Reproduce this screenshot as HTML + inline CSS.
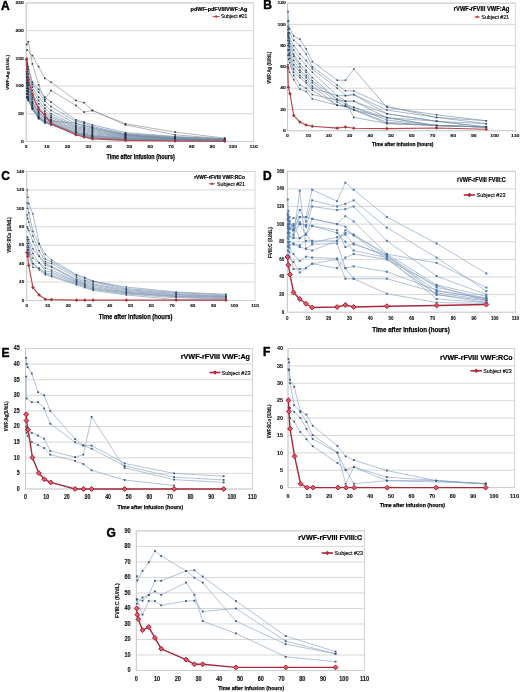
<!DOCTYPE html>
<html><head><meta charset="utf-8"><style>
html,body{margin:0;padding:0;background:#fff;}
svg{display:block;font-family:"Liberation Sans", sans-serif;will-change:transform;}
</style></head><body>
<svg width="520" height="692" viewBox="0 0 520 692">
<line x1="26.2" y1="141.5" x2="253.7" y2="141.5" stroke="#cdcdcd" stroke-width="0.8"/>
<line x1="26.2" y1="113.78" x2="253.7" y2="113.78" stroke="#cdcdcd" stroke-width="0.8"/>
<line x1="26.2" y1="86.06" x2="253.7" y2="86.06" stroke="#cdcdcd" stroke-width="0.8"/>
<line x1="26.2" y1="58.34" x2="253.7" y2="58.34" stroke="#cdcdcd" stroke-width="0.8"/>
<line x1="26.2" y1="30.62" x2="253.7" y2="30.62" stroke="#cdcdcd" stroke-width="0.8"/>
<line x1="26.2" y1="2.9" x2="253.7" y2="2.9" stroke="#cdcdcd" stroke-width="0.8"/>
<rect x="26.2" y="2.9" width="227.5" height="138.6" fill="none" stroke="#cdcdcd" stroke-width="0.8"/>
<line x1="26.2" y1="2.9" x2="26.2" y2="141.5" stroke="#c6c6c6" stroke-width="0.8"/>
<text x="20.95" y="142.68" font-size="4.4" font-weight="bold" fill="#111" stroke="#111" stroke-width="0.12" textLength="2.75" lengthAdjust="spacingAndGlyphs">0</text>
<text x="18.2" y="114.96" font-size="4.4" font-weight="bold" fill="#111" stroke="#111" stroke-width="0.12" textLength="5.5" lengthAdjust="spacingAndGlyphs">50</text>
<text x="15.45" y="87.24" font-size="4.4" font-weight="bold" fill="#111" stroke="#111" stroke-width="0.12" textLength="8.25" lengthAdjust="spacingAndGlyphs">100</text>
<text x="15.45" y="59.52" font-size="4.4" font-weight="bold" fill="#111" stroke="#111" stroke-width="0.12" textLength="8.25" lengthAdjust="spacingAndGlyphs">150</text>
<text x="15.45" y="31.8" font-size="4.4" font-weight="bold" fill="#111" stroke="#111" stroke-width="0.12" textLength="8.25" lengthAdjust="spacingAndGlyphs">200</text>
<text x="15.45" y="4.08" font-size="4.4" font-weight="bold" fill="#111" stroke="#111" stroke-width="0.12" textLength="8.25" lengthAdjust="spacingAndGlyphs">250</text>
<text x="24.82" y="148.48" font-size="4.4" font-weight="bold" fill="#111" stroke="#111" stroke-width="0.12" textLength="2.75" lengthAdjust="spacingAndGlyphs">0</text>
<text x="44.13" y="148.48" font-size="4.4" font-weight="bold" fill="#111" stroke="#111" stroke-width="0.12" textLength="5.5" lengthAdjust="spacingAndGlyphs">10</text>
<text x="64.81" y="148.48" font-size="4.4" font-weight="bold" fill="#111" stroke="#111" stroke-width="0.12" textLength="5.5" lengthAdjust="spacingAndGlyphs">20</text>
<text x="85.5" y="148.48" font-size="4.4" font-weight="bold" fill="#111" stroke="#111" stroke-width="0.12" textLength="5.5" lengthAdjust="spacingAndGlyphs">30</text>
<text x="106.18" y="148.48" font-size="4.4" font-weight="bold" fill="#111" stroke="#111" stroke-width="0.12" textLength="5.5" lengthAdjust="spacingAndGlyphs">40</text>
<text x="126.86" y="148.48" font-size="4.4" font-weight="bold" fill="#111" stroke="#111" stroke-width="0.12" textLength="5.5" lengthAdjust="spacingAndGlyphs">50</text>
<text x="147.54" y="148.48" font-size="4.4" font-weight="bold" fill="#111" stroke="#111" stroke-width="0.12" textLength="5.5" lengthAdjust="spacingAndGlyphs">60</text>
<text x="168.22" y="148.48" font-size="4.4" font-weight="bold" fill="#111" stroke="#111" stroke-width="0.12" textLength="5.5" lengthAdjust="spacingAndGlyphs">70</text>
<text x="188.9" y="148.48" font-size="4.4" font-weight="bold" fill="#111" stroke="#111" stroke-width="0.12" textLength="5.5" lengthAdjust="spacingAndGlyphs">80</text>
<text x="209.59" y="148.48" font-size="4.4" font-weight="bold" fill="#111" stroke="#111" stroke-width="0.12" textLength="5.5" lengthAdjust="spacingAndGlyphs">90</text>
<text x="228.89" y="148.48" font-size="4.4" font-weight="bold" fill="#111" stroke="#111" stroke-width="0.12" textLength="8.25" lengthAdjust="spacingAndGlyphs">100</text>
<text x="249.58" y="148.48" font-size="4.4" font-weight="bold" fill="#111" stroke="#111" stroke-width="0.12" textLength="8.25" lengthAdjust="spacingAndGlyphs">110</text>
<text x="106.5" y="158.59" font-size="6.43" font-weight="bold" fill="#000" stroke="#000" stroke-width="0.25" textLength="68.2" lengthAdjust="spacingAndGlyphs">Time after infusion (hours)</text>
<text transform="translate(9.14,90) rotate(-90)" font-size="4.4" font-weight="bold" fill="#111" stroke="#111" stroke-width="0.15" textLength="35" lengthAdjust="spacingAndGlyphs">VWF:Ag (IU/dL)</text>
<text x="190.6" y="10.72" font-size="5.9" font-weight="bold" fill="#000" stroke="#000" stroke-width="0.22" textLength="56.7" lengthAdjust="spacingAndGlyphs">pdWF-pdFVIIIVWF:Ag</text>
<line x1="212.6" y1="16.6" x2="219.8" y2="16.6" stroke="#b8454b" stroke-width="1.0"/>
<path d="M214.6 16.6L216.2 15L217.8 16.6L216.2 18.2Z" fill="#b8454b"/>
<text x="220.9" y="18.4" font-size="5.0" fill="#111" stroke="#111" stroke-width="0.18" textLength="26.4" lengthAdjust="spacingAndGlyphs">Subject #21</text>
<text x="1.1" y="9.6" font-size="12" font-weight="bold" fill="#000" stroke="#000" stroke-width="0.45">A</text>
<polyline points="27.23,50.02 32.4,55.57 38.61,66.66 44.81,78.3 51.02,82.18 75.84,100.47 84.11,102.69 92.38,110.45 125.47,123.76 175.11,132.08 224.75,138.17" fill="none" stroke="#8e8e8e" stroke-width="0.65"/>
<polyline points="26.72,44.48 28.27,41.71 32.4,63.88 38.61,84.95 44.81,99.37 51.02,90.5 75.84,105.46 84.11,112.12 92.38,110.45 125.47,124.87 175.11,134.85 224.75,138.73" fill="none" stroke="#8e8e8e" stroke-width="0.65"/>
<polyline points="26.72,58.34 27.23,62.78 28.27,66.66 32.4,82.18 38.61,89.39 44.81,97.15 51.02,102.14 75.84,119.88 84.11,122.1 92.38,124.87 125.47,132.63 175.11,136.51 224.75,138.73" fill="none" stroke="#6f88a3" stroke-width="0.65"/>
<polyline points="26.72,60.56 27.23,64.99 28.27,69.43 32.4,84.4 38.61,92.16 44.81,101.03 51.02,106.57 75.84,121.54 84.11,123.2 92.38,126.53 125.47,133.74 175.11,137.06 224.75,139.28" fill="none" stroke="#6f88a3" stroke-width="0.65"/>
<polyline points="26.72,63.88 27.23,68.32 28.27,73.86 32.4,87.17 38.61,97.15 44.81,104.91 51.02,110.45 75.84,123.76 84.11,125.42 92.38,127.64 125.47,134.29 175.11,137.62 224.75,139.56" fill="none" stroke="#6f88a3" stroke-width="0.65"/>
<polyline points="26.72,66.1 27.23,71.65 28.27,77.19 32.4,90.5 38.61,100.47 44.81,108.24 51.02,113.78 75.84,125.42 84.11,127.09 92.38,129.3 125.47,134.85 175.11,138.17 224.75,139.84" fill="none" stroke="#6f88a3" stroke-width="0.65"/>
<polyline points="26.72,68.87 27.23,73.86 28.27,79.96 32.4,93.82 38.61,103.8 44.81,111.01 51.02,116 75.84,126.53 84.11,128.19 92.38,130.41 125.47,135.4 175.11,138.45 224.75,140.11" fill="none" stroke="#6f88a3" stroke-width="0.65"/>
<polyline points="26.72,71.65 27.23,76.08 28.27,82.73 32.4,97.15 38.61,107.13 44.81,113.23 51.02,117.66 75.84,127.64 84.11,129.3 92.38,131.52 125.47,135.96 175.11,138.73 224.75,140.28" fill="none" stroke="#6f88a3" stroke-width="0.65"/>
<polyline points="26.72,74.42 27.23,78.85 28.27,85.51 32.4,99.37 38.61,109.34 44.81,115.44 51.02,119.32 75.84,128.75 84.11,130.41 92.38,132.63 125.47,136.51 175.11,139.01 224.75,140.39" fill="none" stroke="#6f88a3" stroke-width="0.65"/>
<polyline points="26.72,77.19 27.23,81.07 28.27,88.28 32.4,101.58 38.61,111.56 44.81,117.11 51.02,120.43 75.84,129.86 84.11,131.52 92.38,133.74 125.47,137.06 175.11,139.28 224.75,140.5" fill="none" stroke="#6f88a3" stroke-width="0.65"/>
<polyline points="26.72,79.96 27.23,83.29 28.27,89.94 32.4,103.8 38.61,113.78 44.81,118.77 51.02,121.54 75.84,130.97 84.11,132.63 92.38,134.85 125.47,137.62 175.11,139.56 224.75,140.67" fill="none" stroke="#6f88a3" stroke-width="0.65"/>
<polyline points="26.72,82.73 27.23,85.51 28.27,92.16 32.4,105.46 38.61,115.44 44.81,119.88 51.02,122.65 75.84,132.08 84.11,133.74 92.38,135.68 125.47,138.17 175.11,139.84 224.75,140.83" fill="none" stroke="#6f88a3" stroke-width="0.65"/>
<polyline points="26.72,85.51 27.23,88.28 28.27,94.38 32.4,107.13 38.61,116.55 44.81,120.99 51.02,123.2 75.84,132.63 84.11,134.29 92.38,136.23 125.47,138.73 175.11,140.11 224.75,140.95" fill="none" stroke="#6f88a3" stroke-width="0.65"/>
<polyline points="26.72,88.28 27.23,91.05 28.27,96.59 32.4,108.24 38.61,117.66 44.81,122.1 51.02,123.76 75.84,133.18 84.11,134.85 92.38,136.79 125.47,139.01 175.11,140.39 224.75,141.06" fill="none" stroke="#6f88a3" stroke-width="0.65"/>
<polyline points="26.72,91.05 27.23,93.82 28.27,98.26 32.4,109.34 38.61,118.22 44.81,122.65 51.02,124.31 75.84,133.74 84.11,135.4 92.38,137.34 125.47,139.28 175.11,140.39 224.75,141.11" fill="none" stroke="#6f88a3" stroke-width="0.65"/>
<polyline points="26.72,93.82 27.23,96.59 28.27,99.92 32.4,108.79 38.61,118.77 44.81,122.65 51.02,124.87 75.84,134.29 84.11,135.96 92.38,137.9 125.47,139.56 175.11,140.67 224.75,141.17" fill="none" stroke="#6f88a3" stroke-width="0.65"/>
<polyline points="26.72,97.15 27.23,98.26 28.27,100.47 32.4,107.68 38.61,117.11 44.81,121.54 51.02,124.31 75.84,134.57 84.11,136.51 92.38,138.17 125.47,139.84 175.11,140.83 224.75,141.22" fill="none" stroke="#6f88a3" stroke-width="0.65"/>
<polyline points="26.72,72.2 27.23,77.19 28.27,84.95 32.4,102.69 38.61,112.67 44.81,118.22 51.02,120.99 75.84,123.2 84.11,125.42 92.38,128.19 125.47,134.85 175.11,138.17 224.75,139.84" fill="none" stroke="#6f88a3" stroke-width="0.65"/>
<rect x="26.43" y="49.22" width="1.6" height="1.6" fill="#24364e"/>
<rect x="31.6" y="54.77" width="1.6" height="1.6" fill="#24364e"/>
<rect x="37.81" y="65.86" width="1.6" height="1.6" fill="#24364e"/>
<rect x="44.01" y="77.5" width="1.6" height="1.6" fill="#24364e"/>
<rect x="50.22" y="81.38" width="1.6" height="1.6" fill="#24364e"/>
<rect x="75.04" y="99.67" width="1.6" height="1.6" fill="#24364e"/>
<rect x="83.31" y="101.89" width="1.6" height="1.6" fill="#24364e"/>
<rect x="91.58" y="109.65" width="1.6" height="1.6" fill="#24364e"/>
<rect x="124.67" y="122.96" width="1.6" height="1.6" fill="#24364e"/>
<rect x="174.31" y="131.28" width="1.6" height="1.6" fill="#24364e"/>
<rect x="223.95" y="137.37" width="1.6" height="1.6" fill="#24364e"/>
<rect x="25.92" y="43.68" width="1.6" height="1.6" fill="#24364e"/>
<rect x="27.47" y="40.91" width="1.6" height="1.6" fill="#24364e"/>
<rect x="31.6" y="63.08" width="1.6" height="1.6" fill="#24364e"/>
<rect x="37.81" y="84.15" width="1.6" height="1.6" fill="#24364e"/>
<rect x="44.01" y="98.57" width="1.6" height="1.6" fill="#24364e"/>
<rect x="50.22" y="89.7" width="1.6" height="1.6" fill="#24364e"/>
<rect x="75.04" y="104.66" width="1.6" height="1.6" fill="#24364e"/>
<rect x="83.31" y="111.32" width="1.6" height="1.6" fill="#24364e"/>
<rect x="91.58" y="109.65" width="1.6" height="1.6" fill="#24364e"/>
<rect x="124.67" y="124.07" width="1.6" height="1.6" fill="#24364e"/>
<rect x="174.31" y="134.05" width="1.6" height="1.6" fill="#24364e"/>
<rect x="223.95" y="137.93" width="1.6" height="1.6" fill="#24364e"/>
<rect x="25.92" y="57.54" width="1.6" height="1.6" fill="#24364e"/>
<rect x="26.43" y="61.98" width="1.6" height="1.6" fill="#24364e"/>
<rect x="27.47" y="65.86" width="1.6" height="1.6" fill="#24364e"/>
<rect x="31.6" y="81.38" width="1.6" height="1.6" fill="#24364e"/>
<rect x="37.81" y="88.59" width="1.6" height="1.6" fill="#24364e"/>
<rect x="44.01" y="96.35" width="1.6" height="1.6" fill="#24364e"/>
<rect x="50.22" y="101.34" width="1.6" height="1.6" fill="#24364e"/>
<rect x="75.04" y="119.08" width="1.6" height="1.6" fill="#24364e"/>
<rect x="83.31" y="121.3" width="1.6" height="1.6" fill="#24364e"/>
<rect x="91.58" y="124.07" width="1.6" height="1.6" fill="#24364e"/>
<rect x="124.67" y="131.83" width="1.6" height="1.6" fill="#24364e"/>
<rect x="174.31" y="135.71" width="1.6" height="1.6" fill="#24364e"/>
<rect x="223.95" y="137.93" width="1.6" height="1.6" fill="#24364e"/>
<rect x="25.92" y="59.76" width="1.6" height="1.6" fill="#24364e"/>
<rect x="26.43" y="64.19" width="1.6" height="1.6" fill="#24364e"/>
<rect x="27.47" y="68.63" width="1.6" height="1.6" fill="#24364e"/>
<rect x="31.6" y="83.6" width="1.6" height="1.6" fill="#24364e"/>
<rect x="37.81" y="91.36" width="1.6" height="1.6" fill="#24364e"/>
<rect x="44.01" y="100.23" width="1.6" height="1.6" fill="#24364e"/>
<rect x="50.22" y="105.77" width="1.6" height="1.6" fill="#24364e"/>
<rect x="75.04" y="120.74" width="1.6" height="1.6" fill="#24364e"/>
<rect x="83.31" y="122.4" width="1.6" height="1.6" fill="#24364e"/>
<rect x="91.58" y="125.73" width="1.6" height="1.6" fill="#24364e"/>
<rect x="124.67" y="132.94" width="1.6" height="1.6" fill="#24364e"/>
<rect x="174.31" y="136.26" width="1.6" height="1.6" fill="#24364e"/>
<rect x="223.95" y="138.48" width="1.6" height="1.6" fill="#24364e"/>
<rect x="25.92" y="63.08" width="1.6" height="1.6" fill="#24364e"/>
<rect x="26.43" y="67.52" width="1.6" height="1.6" fill="#24364e"/>
<rect x="27.47" y="73.06" width="1.6" height="1.6" fill="#24364e"/>
<rect x="31.6" y="86.37" width="1.6" height="1.6" fill="#24364e"/>
<rect x="37.81" y="96.35" width="1.6" height="1.6" fill="#24364e"/>
<rect x="44.01" y="104.11" width="1.6" height="1.6" fill="#24364e"/>
<rect x="50.22" y="109.65" width="1.6" height="1.6" fill="#24364e"/>
<rect x="75.04" y="122.96" width="1.6" height="1.6" fill="#24364e"/>
<rect x="83.31" y="124.62" width="1.6" height="1.6" fill="#24364e"/>
<rect x="91.58" y="126.84" width="1.6" height="1.6" fill="#24364e"/>
<rect x="124.67" y="133.49" width="1.6" height="1.6" fill="#24364e"/>
<rect x="174.31" y="136.82" width="1.6" height="1.6" fill="#24364e"/>
<rect x="223.95" y="138.76" width="1.6" height="1.6" fill="#24364e"/>
<rect x="25.92" y="65.3" width="1.6" height="1.6" fill="#24364e"/>
<rect x="26.43" y="70.85" width="1.6" height="1.6" fill="#24364e"/>
<rect x="27.47" y="76.39" width="1.6" height="1.6" fill="#24364e"/>
<rect x="31.6" y="89.7" width="1.6" height="1.6" fill="#24364e"/>
<rect x="37.81" y="99.67" width="1.6" height="1.6" fill="#24364e"/>
<rect x="44.01" y="107.44" width="1.6" height="1.6" fill="#24364e"/>
<rect x="50.22" y="112.98" width="1.6" height="1.6" fill="#24364e"/>
<rect x="75.04" y="124.62" width="1.6" height="1.6" fill="#24364e"/>
<rect x="83.31" y="126.29" width="1.6" height="1.6" fill="#24364e"/>
<rect x="91.58" y="128.5" width="1.6" height="1.6" fill="#24364e"/>
<rect x="124.67" y="134.05" width="1.6" height="1.6" fill="#24364e"/>
<rect x="174.31" y="137.37" width="1.6" height="1.6" fill="#24364e"/>
<rect x="223.95" y="139.04" width="1.6" height="1.6" fill="#24364e"/>
<rect x="25.92" y="68.07" width="1.6" height="1.6" fill="#24364e"/>
<rect x="26.43" y="73.06" width="1.6" height="1.6" fill="#24364e"/>
<rect x="27.47" y="79.16" width="1.6" height="1.6" fill="#24364e"/>
<rect x="31.6" y="93.02" width="1.6" height="1.6" fill="#24364e"/>
<rect x="37.81" y="103" width="1.6" height="1.6" fill="#24364e"/>
<rect x="44.01" y="110.21" width="1.6" height="1.6" fill="#24364e"/>
<rect x="50.22" y="115.2" width="1.6" height="1.6" fill="#24364e"/>
<rect x="75.04" y="125.73" width="1.6" height="1.6" fill="#24364e"/>
<rect x="83.31" y="127.39" width="1.6" height="1.6" fill="#24364e"/>
<rect x="91.58" y="129.61" width="1.6" height="1.6" fill="#24364e"/>
<rect x="124.67" y="134.6" width="1.6" height="1.6" fill="#24364e"/>
<rect x="174.31" y="137.65" width="1.6" height="1.6" fill="#24364e"/>
<rect x="223.95" y="139.31" width="1.6" height="1.6" fill="#24364e"/>
<rect x="25.92" y="70.85" width="1.6" height="1.6" fill="#24364e"/>
<rect x="26.43" y="75.28" width="1.6" height="1.6" fill="#24364e"/>
<rect x="27.47" y="81.93" width="1.6" height="1.6" fill="#24364e"/>
<rect x="31.6" y="96.35" width="1.6" height="1.6" fill="#24364e"/>
<rect x="37.81" y="106.33" width="1.6" height="1.6" fill="#24364e"/>
<rect x="44.01" y="112.43" width="1.6" height="1.6" fill="#24364e"/>
<rect x="50.22" y="116.86" width="1.6" height="1.6" fill="#24364e"/>
<rect x="75.04" y="126.84" width="1.6" height="1.6" fill="#24364e"/>
<rect x="83.31" y="128.5" width="1.6" height="1.6" fill="#24364e"/>
<rect x="91.58" y="130.72" width="1.6" height="1.6" fill="#24364e"/>
<rect x="124.67" y="135.16" width="1.6" height="1.6" fill="#24364e"/>
<rect x="174.31" y="137.93" width="1.6" height="1.6" fill="#24364e"/>
<rect x="223.95" y="139.48" width="1.6" height="1.6" fill="#24364e"/>
<rect x="25.92" y="73.62" width="1.6" height="1.6" fill="#24364e"/>
<rect x="26.43" y="78.05" width="1.6" height="1.6" fill="#24364e"/>
<rect x="27.47" y="84.71" width="1.6" height="1.6" fill="#24364e"/>
<rect x="31.6" y="98.57" width="1.6" height="1.6" fill="#24364e"/>
<rect x="37.81" y="108.54" width="1.6" height="1.6" fill="#24364e"/>
<rect x="44.01" y="114.64" width="1.6" height="1.6" fill="#24364e"/>
<rect x="50.22" y="118.52" width="1.6" height="1.6" fill="#24364e"/>
<rect x="75.04" y="127.95" width="1.6" height="1.6" fill="#24364e"/>
<rect x="83.31" y="129.61" width="1.6" height="1.6" fill="#24364e"/>
<rect x="91.58" y="131.83" width="1.6" height="1.6" fill="#24364e"/>
<rect x="124.67" y="135.71" width="1.6" height="1.6" fill="#24364e"/>
<rect x="174.31" y="138.21" width="1.6" height="1.6" fill="#24364e"/>
<rect x="223.95" y="139.59" width="1.6" height="1.6" fill="#24364e"/>
<rect x="25.92" y="76.39" width="1.6" height="1.6" fill="#24364e"/>
<rect x="26.43" y="80.27" width="1.6" height="1.6" fill="#24364e"/>
<rect x="27.47" y="87.48" width="1.6" height="1.6" fill="#24364e"/>
<rect x="31.6" y="100.78" width="1.6" height="1.6" fill="#24364e"/>
<rect x="37.81" y="110.76" width="1.6" height="1.6" fill="#24364e"/>
<rect x="44.01" y="116.31" width="1.6" height="1.6" fill="#24364e"/>
<rect x="50.22" y="119.63" width="1.6" height="1.6" fill="#24364e"/>
<rect x="75.04" y="129.06" width="1.6" height="1.6" fill="#24364e"/>
<rect x="83.31" y="130.72" width="1.6" height="1.6" fill="#24364e"/>
<rect x="91.58" y="132.94" width="1.6" height="1.6" fill="#24364e"/>
<rect x="124.67" y="136.26" width="1.6" height="1.6" fill="#24364e"/>
<rect x="174.31" y="138.48" width="1.6" height="1.6" fill="#24364e"/>
<rect x="223.95" y="139.7" width="1.6" height="1.6" fill="#24364e"/>
<rect x="25.92" y="79.16" width="1.6" height="1.6" fill="#24364e"/>
<rect x="26.43" y="82.49" width="1.6" height="1.6" fill="#24364e"/>
<rect x="27.47" y="89.14" width="1.6" height="1.6" fill="#24364e"/>
<rect x="31.6" y="103" width="1.6" height="1.6" fill="#24364e"/>
<rect x="37.81" y="112.98" width="1.6" height="1.6" fill="#24364e"/>
<rect x="44.01" y="117.97" width="1.6" height="1.6" fill="#24364e"/>
<rect x="50.22" y="120.74" width="1.6" height="1.6" fill="#24364e"/>
<rect x="75.04" y="130.17" width="1.6" height="1.6" fill="#24364e"/>
<rect x="83.31" y="131.83" width="1.6" height="1.6" fill="#24364e"/>
<rect x="91.58" y="134.05" width="1.6" height="1.6" fill="#24364e"/>
<rect x="124.67" y="136.82" width="1.6" height="1.6" fill="#24364e"/>
<rect x="174.31" y="138.76" width="1.6" height="1.6" fill="#24364e"/>
<rect x="223.95" y="139.87" width="1.6" height="1.6" fill="#24364e"/>
<rect x="25.92" y="81.93" width="1.6" height="1.6" fill="#24364e"/>
<rect x="26.43" y="84.71" width="1.6" height="1.6" fill="#24364e"/>
<rect x="27.47" y="91.36" width="1.6" height="1.6" fill="#24364e"/>
<rect x="31.6" y="104.66" width="1.6" height="1.6" fill="#24364e"/>
<rect x="37.81" y="114.64" width="1.6" height="1.6" fill="#24364e"/>
<rect x="44.01" y="119.08" width="1.6" height="1.6" fill="#24364e"/>
<rect x="50.22" y="121.85" width="1.6" height="1.6" fill="#24364e"/>
<rect x="75.04" y="131.28" width="1.6" height="1.6" fill="#24364e"/>
<rect x="83.31" y="132.94" width="1.6" height="1.6" fill="#24364e"/>
<rect x="91.58" y="134.88" width="1.6" height="1.6" fill="#24364e"/>
<rect x="124.67" y="137.37" width="1.6" height="1.6" fill="#24364e"/>
<rect x="174.31" y="139.04" width="1.6" height="1.6" fill="#24364e"/>
<rect x="223.95" y="140.03" width="1.6" height="1.6" fill="#24364e"/>
<rect x="25.92" y="84.71" width="1.6" height="1.6" fill="#24364e"/>
<rect x="26.43" y="87.48" width="1.6" height="1.6" fill="#24364e"/>
<rect x="27.47" y="93.58" width="1.6" height="1.6" fill="#24364e"/>
<rect x="31.6" y="106.33" width="1.6" height="1.6" fill="#24364e"/>
<rect x="37.81" y="115.75" width="1.6" height="1.6" fill="#24364e"/>
<rect x="44.01" y="120.19" width="1.6" height="1.6" fill="#24364e"/>
<rect x="50.22" y="122.4" width="1.6" height="1.6" fill="#24364e"/>
<rect x="75.04" y="131.83" width="1.6" height="1.6" fill="#24364e"/>
<rect x="83.31" y="133.49" width="1.6" height="1.6" fill="#24364e"/>
<rect x="91.58" y="135.43" width="1.6" height="1.6" fill="#24364e"/>
<rect x="124.67" y="137.93" width="1.6" height="1.6" fill="#24364e"/>
<rect x="174.31" y="139.31" width="1.6" height="1.6" fill="#24364e"/>
<rect x="223.95" y="140.15" width="1.6" height="1.6" fill="#24364e"/>
<rect x="25.92" y="87.48" width="1.6" height="1.6" fill="#24364e"/>
<rect x="26.43" y="90.25" width="1.6" height="1.6" fill="#24364e"/>
<rect x="27.47" y="95.79" width="1.6" height="1.6" fill="#24364e"/>
<rect x="31.6" y="107.44" width="1.6" height="1.6" fill="#24364e"/>
<rect x="37.81" y="116.86" width="1.6" height="1.6" fill="#24364e"/>
<rect x="44.01" y="121.3" width="1.6" height="1.6" fill="#24364e"/>
<rect x="50.22" y="122.96" width="1.6" height="1.6" fill="#24364e"/>
<rect x="75.04" y="132.38" width="1.6" height="1.6" fill="#24364e"/>
<rect x="83.31" y="134.05" width="1.6" height="1.6" fill="#24364e"/>
<rect x="91.58" y="135.99" width="1.6" height="1.6" fill="#24364e"/>
<rect x="124.67" y="138.21" width="1.6" height="1.6" fill="#24364e"/>
<rect x="174.31" y="139.59" width="1.6" height="1.6" fill="#24364e"/>
<rect x="223.95" y="140.26" width="1.6" height="1.6" fill="#24364e"/>
<rect x="25.92" y="90.25" width="1.6" height="1.6" fill="#24364e"/>
<rect x="26.43" y="93.02" width="1.6" height="1.6" fill="#24364e"/>
<rect x="27.47" y="97.46" width="1.6" height="1.6" fill="#24364e"/>
<rect x="31.6" y="108.54" width="1.6" height="1.6" fill="#24364e"/>
<rect x="37.81" y="117.42" width="1.6" height="1.6" fill="#24364e"/>
<rect x="44.01" y="121.85" width="1.6" height="1.6" fill="#24364e"/>
<rect x="50.22" y="123.51" width="1.6" height="1.6" fill="#24364e"/>
<rect x="75.04" y="132.94" width="1.6" height="1.6" fill="#24364e"/>
<rect x="83.31" y="134.6" width="1.6" height="1.6" fill="#24364e"/>
<rect x="91.58" y="136.54" width="1.6" height="1.6" fill="#24364e"/>
<rect x="124.67" y="138.48" width="1.6" height="1.6" fill="#24364e"/>
<rect x="174.31" y="139.59" width="1.6" height="1.6" fill="#24364e"/>
<rect x="223.95" y="140.31" width="1.6" height="1.6" fill="#24364e"/>
<rect x="25.92" y="93.02" width="1.6" height="1.6" fill="#24364e"/>
<rect x="26.43" y="95.79" width="1.6" height="1.6" fill="#24364e"/>
<rect x="27.47" y="99.12" width="1.6" height="1.6" fill="#24364e"/>
<rect x="31.6" y="107.99" width="1.6" height="1.6" fill="#24364e"/>
<rect x="37.81" y="117.97" width="1.6" height="1.6" fill="#24364e"/>
<rect x="44.01" y="121.85" width="1.6" height="1.6" fill="#24364e"/>
<rect x="50.22" y="124.07" width="1.6" height="1.6" fill="#24364e"/>
<rect x="75.04" y="133.49" width="1.6" height="1.6" fill="#24364e"/>
<rect x="83.31" y="135.16" width="1.6" height="1.6" fill="#24364e"/>
<rect x="91.58" y="137.1" width="1.6" height="1.6" fill="#24364e"/>
<rect x="124.67" y="138.76" width="1.6" height="1.6" fill="#24364e"/>
<rect x="174.31" y="139.87" width="1.6" height="1.6" fill="#24364e"/>
<rect x="223.95" y="140.37" width="1.6" height="1.6" fill="#24364e"/>
<rect x="25.92" y="96.35" width="1.6" height="1.6" fill="#24364e"/>
<rect x="26.43" y="97.46" width="1.6" height="1.6" fill="#24364e"/>
<rect x="27.47" y="99.67" width="1.6" height="1.6" fill="#24364e"/>
<rect x="31.6" y="106.88" width="1.6" height="1.6" fill="#24364e"/>
<rect x="37.81" y="116.31" width="1.6" height="1.6" fill="#24364e"/>
<rect x="44.01" y="120.74" width="1.6" height="1.6" fill="#24364e"/>
<rect x="50.22" y="123.51" width="1.6" height="1.6" fill="#24364e"/>
<rect x="75.04" y="133.77" width="1.6" height="1.6" fill="#24364e"/>
<rect x="83.31" y="135.71" width="1.6" height="1.6" fill="#24364e"/>
<rect x="91.58" y="137.37" width="1.6" height="1.6" fill="#24364e"/>
<rect x="124.67" y="139.04" width="1.6" height="1.6" fill="#24364e"/>
<rect x="174.31" y="140.03" width="1.6" height="1.6" fill="#24364e"/>
<rect x="223.95" y="140.42" width="1.6" height="1.6" fill="#24364e"/>
<rect x="25.92" y="71.4" width="1.6" height="1.6" fill="#24364e"/>
<rect x="26.43" y="76.39" width="1.6" height="1.6" fill="#24364e"/>
<rect x="27.47" y="84.15" width="1.6" height="1.6" fill="#24364e"/>
<rect x="31.6" y="101.89" width="1.6" height="1.6" fill="#24364e"/>
<rect x="37.81" y="111.87" width="1.6" height="1.6" fill="#24364e"/>
<rect x="44.01" y="117.42" width="1.6" height="1.6" fill="#24364e"/>
<rect x="50.22" y="120.19" width="1.6" height="1.6" fill="#24364e"/>
<rect x="75.04" y="122.4" width="1.6" height="1.6" fill="#24364e"/>
<rect x="83.31" y="124.62" width="1.6" height="1.6" fill="#24364e"/>
<rect x="91.58" y="127.39" width="1.6" height="1.6" fill="#24364e"/>
<rect x="124.67" y="134.05" width="1.6" height="1.6" fill="#24364e"/>
<rect x="174.31" y="137.37" width="1.6" height="1.6" fill="#24364e"/>
<rect x="223.95" y="139.04" width="1.6" height="1.6" fill="#24364e"/>
<polyline points="26.41,59.45 27.23,71.65 28.27,79.41 32.4,94.38 38.61,109.34 44.81,114.89 51.02,123.2 75.84,134.68 84.11,137.06 92.38,138.84 125.47,140.39 175.11,140.95 224.75,141.22" fill="none" stroke="#b8454b" stroke-width="1.15"/>
<path d="M24.61 59.45L26.41 57.65L28.21 59.45L26.41 61.25Z" fill="#a8343c"/>
<path d="M25.43 71.65L27.23 69.85L29.03 71.65L27.23 73.45Z" fill="#a8343c"/>
<path d="M26.47 79.41L28.27 77.61L30.07 79.41L28.27 81.21Z" fill="#a8343c"/>
<path d="M30.6 94.38L32.4 92.58L34.2 94.38L32.4 96.18Z" fill="#a8343c"/>
<path d="M36.81 109.34L38.61 107.54L40.41 109.34L38.61 111.14Z" fill="#a8343c"/>
<path d="M43.01 114.89L44.81 113.09L46.61 114.89L44.81 116.69Z" fill="#a8343c"/>
<path d="M49.22 123.2L51.02 121.4L52.82 123.2L51.02 125Z" fill="#a8343c"/>
<path d="M74.04 134.68L75.84 132.88L77.64 134.68L75.84 136.48Z" fill="#a8343c"/>
<path d="M82.31 137.06L84.11 135.26L85.91 137.06L84.11 138.86Z" fill="#a8343c"/>
<path d="M90.58 138.84L92.38 137.04L94.18 138.84L92.38 140.64Z" fill="#a8343c"/>
<path d="M123.67 140.39L125.47 138.59L127.27 140.39L125.47 142.19Z" fill="#a8343c"/>
<path d="M173.31 140.95L175.11 139.15L176.91 140.95L175.11 142.75Z" fill="#a8343c"/>
<path d="M222.95 141.22L224.75 139.42L226.55 141.22L224.75 143.02Z" fill="#a8343c"/>
<line x1="287.5" y1="130.75" x2="515.3" y2="130.75" stroke="#cdcdcd" stroke-width="0.8"/>
<line x1="287.5" y1="109.47" x2="515.3" y2="109.47" stroke="#cdcdcd" stroke-width="0.8"/>
<line x1="287.5" y1="88.2" x2="515.3" y2="88.2" stroke="#cdcdcd" stroke-width="0.8"/>
<line x1="287.5" y1="66.93" x2="515.3" y2="66.93" stroke="#cdcdcd" stroke-width="0.8"/>
<line x1="287.5" y1="45.65" x2="515.3" y2="45.65" stroke="#cdcdcd" stroke-width="0.8"/>
<line x1="287.5" y1="24.38" x2="515.3" y2="24.38" stroke="#cdcdcd" stroke-width="0.8"/>
<line x1="287.5" y1="3.1" x2="515.3" y2="3.1" stroke="#cdcdcd" stroke-width="0.8"/>
<rect x="287.5" y="3.1" width="227.8" height="127.65" fill="none" stroke="#cdcdcd" stroke-width="0.8"/>
<line x1="287.5" y1="3.1" x2="287.5" y2="130.75" stroke="#c6c6c6" stroke-width="0.8"/>
<text x="283.1" y="131.93" font-size="4.4" font-weight="bold" fill="#111" stroke="#111" stroke-width="0.12" textLength="2.8" lengthAdjust="spacingAndGlyphs">0</text>
<text x="280.3" y="110.65" font-size="4.4" font-weight="bold" fill="#111" stroke="#111" stroke-width="0.12" textLength="5.6" lengthAdjust="spacingAndGlyphs">20</text>
<text x="280.3" y="89.38" font-size="4.4" font-weight="bold" fill="#111" stroke="#111" stroke-width="0.12" textLength="5.6" lengthAdjust="spacingAndGlyphs">40</text>
<text x="280.3" y="68.1" font-size="4.4" font-weight="bold" fill="#111" stroke="#111" stroke-width="0.12" textLength="5.6" lengthAdjust="spacingAndGlyphs">60</text>
<text x="280.3" y="46.83" font-size="4.4" font-weight="bold" fill="#111" stroke="#111" stroke-width="0.12" textLength="5.6" lengthAdjust="spacingAndGlyphs">80</text>
<text x="277.5" y="25.55" font-size="4.4" font-weight="bold" fill="#111" stroke="#111" stroke-width="0.12" textLength="8.4" lengthAdjust="spacingAndGlyphs">100</text>
<text x="277.5" y="4.28" font-size="4.4" font-weight="bold" fill="#111" stroke="#111" stroke-width="0.12" textLength="8.4" lengthAdjust="spacingAndGlyphs">120</text>
<text x="286.1" y="137.48" font-size="4.4" font-weight="bold" fill="#111" stroke="#111" stroke-width="0.12" textLength="2.8" lengthAdjust="spacingAndGlyphs">0</text>
<text x="305.41" y="137.48" font-size="4.4" font-weight="bold" fill="#111" stroke="#111" stroke-width="0.12" textLength="5.6" lengthAdjust="spacingAndGlyphs">10</text>
<text x="326.12" y="137.48" font-size="4.4" font-weight="bold" fill="#111" stroke="#111" stroke-width="0.12" textLength="5.6" lengthAdjust="spacingAndGlyphs">20</text>
<text x="346.83" y="137.48" font-size="4.4" font-weight="bold" fill="#111" stroke="#111" stroke-width="0.12" textLength="5.6" lengthAdjust="spacingAndGlyphs">30</text>
<text x="367.54" y="137.48" font-size="4.4" font-weight="bold" fill="#111" stroke="#111" stroke-width="0.12" textLength="5.6" lengthAdjust="spacingAndGlyphs">40</text>
<text x="388.25" y="137.48" font-size="4.4" font-weight="bold" fill="#111" stroke="#111" stroke-width="0.12" textLength="5.6" lengthAdjust="spacingAndGlyphs">50</text>
<text x="408.95" y="137.48" font-size="4.4" font-weight="bold" fill="#111" stroke="#111" stroke-width="0.12" textLength="5.6" lengthAdjust="spacingAndGlyphs">60</text>
<text x="429.66" y="137.48" font-size="4.4" font-weight="bold" fill="#111" stroke="#111" stroke-width="0.12" textLength="5.6" lengthAdjust="spacingAndGlyphs">70</text>
<text x="450.37" y="137.48" font-size="4.4" font-weight="bold" fill="#111" stroke="#111" stroke-width="0.12" textLength="5.6" lengthAdjust="spacingAndGlyphs">80</text>
<text x="471.08" y="137.48" font-size="4.4" font-weight="bold" fill="#111" stroke="#111" stroke-width="0.12" textLength="5.6" lengthAdjust="spacingAndGlyphs">90</text>
<text x="490.39" y="137.48" font-size="4.4" font-weight="bold" fill="#111" stroke="#111" stroke-width="0.12" textLength="8.4" lengthAdjust="spacingAndGlyphs">100</text>
<text x="511.1" y="137.48" font-size="4.4" font-weight="bold" fill="#111" stroke="#111" stroke-width="0.12" textLength="8.4" lengthAdjust="spacingAndGlyphs">110</text>
<text x="371.9" y="145.58" font-size="5.81" font-weight="bold" fill="#000" stroke="#000" stroke-width="0.25" textLength="61.6" lengthAdjust="spacingAndGlyphs">Time after infusion (hours)</text>
<text transform="translate(271.34,83.7) rotate(-90)" font-size="4.6" font-weight="bold" fill="#111" stroke="#111" stroke-width="0.15" textLength="32" lengthAdjust="spacingAndGlyphs">VWF:Ag (IU/dL)</text>
<text x="453.8" y="10.94" font-size="6.5" font-weight="bold" fill="#000" stroke="#000" stroke-width="0.22" textLength="55.6" lengthAdjust="spacingAndGlyphs">rVWF-rFVIII VWF:Ag</text>
<line x1="474.5" y1="17" x2="479.8" y2="17" stroke="#b8454b" stroke-width="1.0"/>
<path d="M475.55 17L477.15 15.4L478.75 17L477.15 18.6Z" fill="#b8454b"/>
<text x="481.5" y="18.8" font-size="5.0" fill="#111" stroke="#111" stroke-width="0.18" textLength="27.5" lengthAdjust="spacingAndGlyphs">Subject #21</text>
<text x="263.2" y="9.1" font-size="12" font-weight="bold" fill="#000" stroke="#000" stroke-width="0.45">B</text>
<polyline points="288.02,11.61 288.54,21.18 289.57,28.63 293.71,36.08 299.93,39.27 306.14,48.84 312.35,61.61 337.2,80.22 345.49,80.22 353.77,69.05 386.9,107.35 436.61,114.79 486.31,120.75" fill="none" stroke="#7890aa" stroke-width="0.65"/>
<polyline points="288.02,21.18 288.54,28.63 289.57,32.89 293.71,40.33 299.93,45.65 306.14,54.16 312.35,66.93 337.2,85.01 345.49,90.86 353.77,90.86 386.9,106.28 436.61,117.45 486.31,120.75" fill="none" stroke="#7890aa" stroke-width="0.65"/>
<polyline points="288.02,26.5 288.54,32.89 289.57,38.2 293.71,45.65 299.93,54.16 306.14,60.54 312.35,69.05 337.2,88.2 345.49,95.65 353.77,94.58 386.9,110.01 436.61,117.45 486.31,123.73" fill="none" stroke="#7890aa" stroke-width="0.65"/>
<polyline points="288.02,29.69 288.54,35.01 289.57,41.39 293.71,49.91 299.93,58.42 306.14,65.86 312.35,72.24 337.2,95.65 345.49,95.65 353.77,94.58 386.9,113.73 436.61,121.28 486.31,123.73" fill="none" stroke="#7890aa" stroke-width="0.65"/>
<polyline points="288.02,32.89 288.54,37.14 289.57,43.52 293.71,54.16 299.93,63.73 306.14,70.12 312.35,77.56 337.2,99.37 345.49,101.28 353.77,101.28 386.9,113.73 436.61,121.28 486.31,127.03" fill="none" stroke="#7890aa" stroke-width="0.65"/>
<polyline points="288.02,35.01 288.54,40.33 289.57,46.71 293.71,56.29 299.93,66.93 306.14,72.24 312.35,80.75 337.2,99.37 345.49,101.28 353.77,101.28 386.9,117.67 436.61,121.28 486.31,127.03" fill="none" stroke="#7890aa" stroke-width="0.65"/>
<polyline points="288.02,37.14 288.54,43.52 289.57,49.91 293.71,60.54 299.93,70.12 306.14,75.44 312.35,82.88 337.2,102.03 345.49,106.28 353.77,110.01 386.9,117.67 436.61,125.54 486.31,127.03" fill="none" stroke="#7890aa" stroke-width="0.65"/>
<polyline points="288.02,40.33 288.54,45.65 289.57,53.1 293.71,64.8 299.93,72.24 306.14,77.56 312.35,86.07 337.2,105.22 345.49,106.28 353.77,110.01 386.9,123.52 436.61,125.54 486.31,127.03" fill="none" stroke="#7890aa" stroke-width="0.65"/>
<polyline points="288.02,45.65 288.54,49.91 289.57,55.22 293.71,69.05 299.93,75.44 306.14,80.75 312.35,88.2 337.2,95.65 345.49,100.97 353.77,117.35 386.9,123.52 436.61,125.54 486.31,127.03" fill="none" stroke="#7890aa" stroke-width="0.65"/>
<polyline points="288.02,49.91 288.54,54.16 289.57,58.42 293.71,72.24 299.93,77.56 306.14,82.88 312.35,90.33 337.2,105.22 345.49,106.28 353.77,107.35 386.9,117.67 436.61,125.54 486.31,127.03" fill="none" stroke="#7890aa" stroke-width="0.65"/>
<polyline points="288.02,55.22 288.54,59.48 289.57,62.67 293.71,75.44 299.93,85.01 306.14,88.2 312.35,94.58 337.2,99.9 345.49,104.16 353.77,107.35 386.9,120.11 436.61,125.54 486.31,127.03" fill="none" stroke="#7890aa" stroke-width="0.65"/>
<polyline points="288.02,64.8 288.54,69.05 289.57,72.24 293.71,79.69 299.93,89.26 306.14,91.39 312.35,98.84 337.2,105.22 345.49,106.28 353.77,109.47 386.9,122.24 436.61,125.54 486.31,127.03" fill="none" stroke="#7890aa" stroke-width="0.65"/>
<rect x="287.27" y="10.86" width="1.5" height="1.5" fill="#2e4868"/>
<rect x="287.79" y="20.43" width="1.5" height="1.5" fill="#2e4868"/>
<rect x="288.82" y="27.88" width="1.5" height="1.5" fill="#2e4868"/>
<rect x="292.96" y="35.33" width="1.5" height="1.5" fill="#2e4868"/>
<rect x="299.18" y="38.52" width="1.5" height="1.5" fill="#2e4868"/>
<rect x="305.39" y="48.09" width="1.5" height="1.5" fill="#2e4868"/>
<rect x="311.6" y="60.86" width="1.5" height="1.5" fill="#2e4868"/>
<rect x="336.45" y="79.47" width="1.5" height="1.5" fill="#2e4868"/>
<rect x="344.74" y="79.47" width="1.5" height="1.5" fill="#2e4868"/>
<rect x="353.02" y="68.3" width="1.5" height="1.5" fill="#2e4868"/>
<rect x="386.15" y="106.6" width="1.5" height="1.5" fill="#2e4868"/>
<rect x="435.86" y="114.04" width="1.5" height="1.5" fill="#2e4868"/>
<rect x="485.56" y="120" width="1.5" height="1.5" fill="#2e4868"/>
<rect x="287.27" y="20.43" width="1.5" height="1.5" fill="#2e4868"/>
<rect x="287.79" y="27.88" width="1.5" height="1.5" fill="#2e4868"/>
<rect x="288.82" y="32.14" width="1.5" height="1.5" fill="#2e4868"/>
<rect x="292.96" y="39.58" width="1.5" height="1.5" fill="#2e4868"/>
<rect x="299.18" y="44.9" width="1.5" height="1.5" fill="#2e4868"/>
<rect x="305.39" y="53.41" width="1.5" height="1.5" fill="#2e4868"/>
<rect x="311.6" y="66.18" width="1.5" height="1.5" fill="#2e4868"/>
<rect x="336.45" y="84.26" width="1.5" height="1.5" fill="#2e4868"/>
<rect x="344.74" y="90.11" width="1.5" height="1.5" fill="#2e4868"/>
<rect x="353.02" y="90.11" width="1.5" height="1.5" fill="#2e4868"/>
<rect x="386.15" y="105.53" width="1.5" height="1.5" fill="#2e4868"/>
<rect x="435.86" y="116.7" width="1.5" height="1.5" fill="#2e4868"/>
<rect x="485.56" y="120" width="1.5" height="1.5" fill="#2e4868"/>
<rect x="287.27" y="25.75" width="1.5" height="1.5" fill="#2e4868"/>
<rect x="287.79" y="32.14" width="1.5" height="1.5" fill="#2e4868"/>
<rect x="288.82" y="37.45" width="1.5" height="1.5" fill="#2e4868"/>
<rect x="292.96" y="44.9" width="1.5" height="1.5" fill="#2e4868"/>
<rect x="299.18" y="53.41" width="1.5" height="1.5" fill="#2e4868"/>
<rect x="305.39" y="59.79" width="1.5" height="1.5" fill="#2e4868"/>
<rect x="311.6" y="68.3" width="1.5" height="1.5" fill="#2e4868"/>
<rect x="336.45" y="87.45" width="1.5" height="1.5" fill="#2e4868"/>
<rect x="344.74" y="94.9" width="1.5" height="1.5" fill="#2e4868"/>
<rect x="353.02" y="93.83" width="1.5" height="1.5" fill="#2e4868"/>
<rect x="386.15" y="109.26" width="1.5" height="1.5" fill="#2e4868"/>
<rect x="435.86" y="116.7" width="1.5" height="1.5" fill="#2e4868"/>
<rect x="485.56" y="122.98" width="1.5" height="1.5" fill="#2e4868"/>
<rect x="287.27" y="28.94" width="1.5" height="1.5" fill="#2e4868"/>
<rect x="287.79" y="34.26" width="1.5" height="1.5" fill="#2e4868"/>
<rect x="288.82" y="40.64" width="1.5" height="1.5" fill="#2e4868"/>
<rect x="292.96" y="49.16" width="1.5" height="1.5" fill="#2e4868"/>
<rect x="299.18" y="57.67" width="1.5" height="1.5" fill="#2e4868"/>
<rect x="305.39" y="65.11" width="1.5" height="1.5" fill="#2e4868"/>
<rect x="311.6" y="71.49" width="1.5" height="1.5" fill="#2e4868"/>
<rect x="336.45" y="94.9" width="1.5" height="1.5" fill="#2e4868"/>
<rect x="344.74" y="94.9" width="1.5" height="1.5" fill="#2e4868"/>
<rect x="353.02" y="93.83" width="1.5" height="1.5" fill="#2e4868"/>
<rect x="386.15" y="112.98" width="1.5" height="1.5" fill="#2e4868"/>
<rect x="435.86" y="120.53" width="1.5" height="1.5" fill="#2e4868"/>
<rect x="485.56" y="122.98" width="1.5" height="1.5" fill="#2e4868"/>
<rect x="287.27" y="32.14" width="1.5" height="1.5" fill="#2e4868"/>
<rect x="287.79" y="36.39" width="1.5" height="1.5" fill="#2e4868"/>
<rect x="288.82" y="42.77" width="1.5" height="1.5" fill="#2e4868"/>
<rect x="292.96" y="53.41" width="1.5" height="1.5" fill="#2e4868"/>
<rect x="299.18" y="62.98" width="1.5" height="1.5" fill="#2e4868"/>
<rect x="305.39" y="69.37" width="1.5" height="1.5" fill="#2e4868"/>
<rect x="311.6" y="76.81" width="1.5" height="1.5" fill="#2e4868"/>
<rect x="336.45" y="98.62" width="1.5" height="1.5" fill="#2e4868"/>
<rect x="344.74" y="100.53" width="1.5" height="1.5" fill="#2e4868"/>
<rect x="353.02" y="100.53" width="1.5" height="1.5" fill="#2e4868"/>
<rect x="386.15" y="112.98" width="1.5" height="1.5" fill="#2e4868"/>
<rect x="435.86" y="120.53" width="1.5" height="1.5" fill="#2e4868"/>
<rect x="485.56" y="126.28" width="1.5" height="1.5" fill="#2e4868"/>
<rect x="287.27" y="34.26" width="1.5" height="1.5" fill="#2e4868"/>
<rect x="287.79" y="39.58" width="1.5" height="1.5" fill="#2e4868"/>
<rect x="288.82" y="45.96" width="1.5" height="1.5" fill="#2e4868"/>
<rect x="292.96" y="55.54" width="1.5" height="1.5" fill="#2e4868"/>
<rect x="299.18" y="66.18" width="1.5" height="1.5" fill="#2e4868"/>
<rect x="305.39" y="71.49" width="1.5" height="1.5" fill="#2e4868"/>
<rect x="311.6" y="80" width="1.5" height="1.5" fill="#2e4868"/>
<rect x="336.45" y="98.62" width="1.5" height="1.5" fill="#2e4868"/>
<rect x="344.74" y="100.53" width="1.5" height="1.5" fill="#2e4868"/>
<rect x="353.02" y="100.53" width="1.5" height="1.5" fill="#2e4868"/>
<rect x="386.15" y="116.92" width="1.5" height="1.5" fill="#2e4868"/>
<rect x="435.86" y="120.53" width="1.5" height="1.5" fill="#2e4868"/>
<rect x="485.56" y="126.28" width="1.5" height="1.5" fill="#2e4868"/>
<rect x="287.27" y="36.39" width="1.5" height="1.5" fill="#2e4868"/>
<rect x="287.79" y="42.77" width="1.5" height="1.5" fill="#2e4868"/>
<rect x="288.82" y="49.16" width="1.5" height="1.5" fill="#2e4868"/>
<rect x="292.96" y="59.79" width="1.5" height="1.5" fill="#2e4868"/>
<rect x="299.18" y="69.37" width="1.5" height="1.5" fill="#2e4868"/>
<rect x="305.39" y="74.69" width="1.5" height="1.5" fill="#2e4868"/>
<rect x="311.6" y="82.13" width="1.5" height="1.5" fill="#2e4868"/>
<rect x="336.45" y="101.28" width="1.5" height="1.5" fill="#2e4868"/>
<rect x="344.74" y="105.53" width="1.5" height="1.5" fill="#2e4868"/>
<rect x="353.02" y="109.26" width="1.5" height="1.5" fill="#2e4868"/>
<rect x="386.15" y="116.92" width="1.5" height="1.5" fill="#2e4868"/>
<rect x="435.86" y="124.79" width="1.5" height="1.5" fill="#2e4868"/>
<rect x="485.56" y="126.28" width="1.5" height="1.5" fill="#2e4868"/>
<rect x="287.27" y="39.58" width="1.5" height="1.5" fill="#2e4868"/>
<rect x="287.79" y="44.9" width="1.5" height="1.5" fill="#2e4868"/>
<rect x="288.82" y="52.35" width="1.5" height="1.5" fill="#2e4868"/>
<rect x="292.96" y="64.05" width="1.5" height="1.5" fill="#2e4868"/>
<rect x="299.18" y="71.49" width="1.5" height="1.5" fill="#2e4868"/>
<rect x="305.39" y="76.81" width="1.5" height="1.5" fill="#2e4868"/>
<rect x="311.6" y="85.32" width="1.5" height="1.5" fill="#2e4868"/>
<rect x="336.45" y="104.47" width="1.5" height="1.5" fill="#2e4868"/>
<rect x="344.74" y="105.53" width="1.5" height="1.5" fill="#2e4868"/>
<rect x="353.02" y="109.26" width="1.5" height="1.5" fill="#2e4868"/>
<rect x="386.15" y="122.77" width="1.5" height="1.5" fill="#2e4868"/>
<rect x="435.86" y="124.79" width="1.5" height="1.5" fill="#2e4868"/>
<rect x="485.56" y="126.28" width="1.5" height="1.5" fill="#2e4868"/>
<rect x="287.27" y="44.9" width="1.5" height="1.5" fill="#2e4868"/>
<rect x="287.79" y="49.16" width="1.5" height="1.5" fill="#2e4868"/>
<rect x="288.82" y="54.47" width="1.5" height="1.5" fill="#2e4868"/>
<rect x="292.96" y="68.3" width="1.5" height="1.5" fill="#2e4868"/>
<rect x="299.18" y="74.69" width="1.5" height="1.5" fill="#2e4868"/>
<rect x="305.39" y="80" width="1.5" height="1.5" fill="#2e4868"/>
<rect x="311.6" y="87.45" width="1.5" height="1.5" fill="#2e4868"/>
<rect x="336.45" y="94.9" width="1.5" height="1.5" fill="#2e4868"/>
<rect x="344.74" y="100.22" width="1.5" height="1.5" fill="#2e4868"/>
<rect x="353.02" y="116.6" width="1.5" height="1.5" fill="#2e4868"/>
<rect x="386.15" y="122.77" width="1.5" height="1.5" fill="#2e4868"/>
<rect x="435.86" y="124.79" width="1.5" height="1.5" fill="#2e4868"/>
<rect x="485.56" y="126.28" width="1.5" height="1.5" fill="#2e4868"/>
<rect x="287.27" y="49.16" width="1.5" height="1.5" fill="#2e4868"/>
<rect x="287.79" y="53.41" width="1.5" height="1.5" fill="#2e4868"/>
<rect x="288.82" y="57.67" width="1.5" height="1.5" fill="#2e4868"/>
<rect x="292.96" y="71.49" width="1.5" height="1.5" fill="#2e4868"/>
<rect x="299.18" y="76.81" width="1.5" height="1.5" fill="#2e4868"/>
<rect x="305.39" y="82.13" width="1.5" height="1.5" fill="#2e4868"/>
<rect x="311.6" y="89.58" width="1.5" height="1.5" fill="#2e4868"/>
<rect x="336.45" y="104.47" width="1.5" height="1.5" fill="#2e4868"/>
<rect x="344.74" y="105.53" width="1.5" height="1.5" fill="#2e4868"/>
<rect x="353.02" y="106.6" width="1.5" height="1.5" fill="#2e4868"/>
<rect x="386.15" y="116.92" width="1.5" height="1.5" fill="#2e4868"/>
<rect x="435.86" y="124.79" width="1.5" height="1.5" fill="#2e4868"/>
<rect x="485.56" y="126.28" width="1.5" height="1.5" fill="#2e4868"/>
<rect x="287.27" y="54.47" width="1.5" height="1.5" fill="#2e4868"/>
<rect x="287.79" y="58.73" width="1.5" height="1.5" fill="#2e4868"/>
<rect x="288.82" y="61.92" width="1.5" height="1.5" fill="#2e4868"/>
<rect x="292.96" y="74.69" width="1.5" height="1.5" fill="#2e4868"/>
<rect x="299.18" y="84.26" width="1.5" height="1.5" fill="#2e4868"/>
<rect x="305.39" y="87.45" width="1.5" height="1.5" fill="#2e4868"/>
<rect x="311.6" y="93.83" width="1.5" height="1.5" fill="#2e4868"/>
<rect x="336.45" y="99.15" width="1.5" height="1.5" fill="#2e4868"/>
<rect x="344.74" y="103.41" width="1.5" height="1.5" fill="#2e4868"/>
<rect x="353.02" y="106.6" width="1.5" height="1.5" fill="#2e4868"/>
<rect x="386.15" y="119.36" width="1.5" height="1.5" fill="#2e4868"/>
<rect x="435.86" y="124.79" width="1.5" height="1.5" fill="#2e4868"/>
<rect x="485.56" y="126.28" width="1.5" height="1.5" fill="#2e4868"/>
<rect x="287.27" y="64.05" width="1.5" height="1.5" fill="#2e4868"/>
<rect x="287.79" y="68.3" width="1.5" height="1.5" fill="#2e4868"/>
<rect x="288.82" y="71.49" width="1.5" height="1.5" fill="#2e4868"/>
<rect x="292.96" y="78.94" width="1.5" height="1.5" fill="#2e4868"/>
<rect x="299.18" y="88.51" width="1.5" height="1.5" fill="#2e4868"/>
<rect x="305.39" y="90.64" width="1.5" height="1.5" fill="#2e4868"/>
<rect x="311.6" y="98.09" width="1.5" height="1.5" fill="#2e4868"/>
<rect x="336.45" y="104.47" width="1.5" height="1.5" fill="#2e4868"/>
<rect x="344.74" y="105.53" width="1.5" height="1.5" fill="#2e4868"/>
<rect x="353.02" y="108.72" width="1.5" height="1.5" fill="#2e4868"/>
<rect x="386.15" y="121.49" width="1.5" height="1.5" fill="#2e4868"/>
<rect x="435.86" y="124.79" width="1.5" height="1.5" fill="#2e4868"/>
<rect x="485.56" y="126.28" width="1.5" height="1.5" fill="#2e4868"/>
<polyline points="287.71,66.93 288.33,87.14 289.99,93.73 293.71,115.54 299.93,122.03 306.14,125.01 312.35,126.28 337.2,128.09 345.49,127.03 353.77,128.2 386.9,128.62 436.61,127.98 486.31,129.26" fill="none" stroke="#b8454b" stroke-width="1.15"/>
<path d="M285.91 66.93L287.71 65.13L289.51 66.93L287.71 68.73Z" fill="#a8343c"/>
<path d="M286.53 87.14L288.33 85.34L290.13 87.14L288.33 88.94Z" fill="#a8343c"/>
<path d="M288.19 93.73L289.99 91.93L291.79 93.73L289.99 95.53Z" fill="#a8343c"/>
<path d="M291.91 115.54L293.71 113.74L295.51 115.54L293.71 117.34Z" fill="#a8343c"/>
<path d="M298.13 122.03L299.93 120.23L301.73 122.03L299.93 123.83Z" fill="#a8343c"/>
<path d="M304.34 125.01L306.14 123.21L307.94 125.01L306.14 126.81Z" fill="#a8343c"/>
<path d="M310.55 126.28L312.35 124.48L314.15 126.28L312.35 128.08Z" fill="#a8343c"/>
<path d="M335.4 128.09L337.2 126.29L339 128.09L337.2 129.89Z" fill="#a8343c"/>
<path d="M343.69 127.03L345.49 125.23L347.29 127.03L345.49 128.83Z" fill="#a8343c"/>
<path d="M351.97 128.2L353.77 126.4L355.57 128.2L353.77 130Z" fill="#a8343c"/>
<path d="M385.1 128.62L386.9 126.82L388.7 128.62L386.9 130.42Z" fill="#a8343c"/>
<path d="M434.81 127.98L436.61 126.18L438.41 127.98L436.61 129.78Z" fill="#a8343c"/>
<path d="M484.51 129.26L486.31 127.46L488.11 129.26L486.31 131.06Z" fill="#a8343c"/>
<line x1="26.7" y1="300.5" x2="255" y2="300.5" stroke="#cdcdcd" stroke-width="0.8"/>
<line x1="26.7" y1="282.07" x2="255" y2="282.07" stroke="#cdcdcd" stroke-width="0.8"/>
<line x1="26.7" y1="263.64" x2="255" y2="263.64" stroke="#cdcdcd" stroke-width="0.8"/>
<line x1="26.7" y1="245.21" x2="255" y2="245.21" stroke="#cdcdcd" stroke-width="0.8"/>
<line x1="26.7" y1="226.79" x2="255" y2="226.79" stroke="#cdcdcd" stroke-width="0.8"/>
<line x1="26.7" y1="208.36" x2="255" y2="208.36" stroke="#cdcdcd" stroke-width="0.8"/>
<line x1="26.7" y1="189.93" x2="255" y2="189.93" stroke="#cdcdcd" stroke-width="0.8"/>
<line x1="26.7" y1="171.5" x2="255" y2="171.5" stroke="#cdcdcd" stroke-width="0.8"/>
<rect x="26.7" y="171.5" width="228.3" height="129" fill="none" stroke="#cdcdcd" stroke-width="0.8"/>
<line x1="26.7" y1="171.5" x2="26.7" y2="300.5" stroke="#c6c6c6" stroke-width="0.8"/>
<text x="21.65" y="301.68" font-size="4.4" font-weight="bold" fill="#111" stroke="#111" stroke-width="0.12" textLength="2.55" lengthAdjust="spacingAndGlyphs">0</text>
<text x="19.1" y="283.25" font-size="4.4" font-weight="bold" fill="#111" stroke="#111" stroke-width="0.12" textLength="5.1" lengthAdjust="spacingAndGlyphs">20</text>
<text x="19.1" y="264.82" font-size="4.4" font-weight="bold" fill="#111" stroke="#111" stroke-width="0.12" textLength="5.1" lengthAdjust="spacingAndGlyphs">40</text>
<text x="19.1" y="246.39" font-size="4.4" font-weight="bold" fill="#111" stroke="#111" stroke-width="0.12" textLength="5.1" lengthAdjust="spacingAndGlyphs">60</text>
<text x="19.1" y="227.96" font-size="4.4" font-weight="bold" fill="#111" stroke="#111" stroke-width="0.12" textLength="5.1" lengthAdjust="spacingAndGlyphs">80</text>
<text x="16.55" y="209.53" font-size="4.4" font-weight="bold" fill="#111" stroke="#111" stroke-width="0.12" textLength="7.65" lengthAdjust="spacingAndGlyphs">100</text>
<text x="16.55" y="191.1" font-size="4.4" font-weight="bold" fill="#111" stroke="#111" stroke-width="0.12" textLength="7.65" lengthAdjust="spacingAndGlyphs">120</text>
<text x="16.55" y="172.68" font-size="4.4" font-weight="bold" fill="#111" stroke="#111" stroke-width="0.12" textLength="7.65" lengthAdjust="spacingAndGlyphs">140</text>
<text x="25.43" y="307.38" font-size="4.4" font-weight="bold" fill="#111" stroke="#111" stroke-width="0.12" textLength="2.55" lengthAdjust="spacingAndGlyphs">0</text>
<text x="44.9" y="307.38" font-size="4.4" font-weight="bold" fill="#111" stroke="#111" stroke-width="0.12" textLength="5.1" lengthAdjust="spacingAndGlyphs">10</text>
<text x="65.66" y="307.38" font-size="4.4" font-weight="bold" fill="#111" stroke="#111" stroke-width="0.12" textLength="5.1" lengthAdjust="spacingAndGlyphs">20</text>
<text x="86.41" y="307.38" font-size="4.4" font-weight="bold" fill="#111" stroke="#111" stroke-width="0.12" textLength="5.1" lengthAdjust="spacingAndGlyphs">30</text>
<text x="107.17" y="307.38" font-size="4.4" font-weight="bold" fill="#111" stroke="#111" stroke-width="0.12" textLength="5.1" lengthAdjust="spacingAndGlyphs">40</text>
<text x="127.92" y="307.38" font-size="4.4" font-weight="bold" fill="#111" stroke="#111" stroke-width="0.12" textLength="5.1" lengthAdjust="spacingAndGlyphs">50</text>
<text x="148.68" y="307.38" font-size="4.4" font-weight="bold" fill="#111" stroke="#111" stroke-width="0.12" textLength="5.1" lengthAdjust="spacingAndGlyphs">60</text>
<text x="169.43" y="307.38" font-size="4.4" font-weight="bold" fill="#111" stroke="#111" stroke-width="0.12" textLength="5.1" lengthAdjust="spacingAndGlyphs">70</text>
<text x="190.19" y="307.38" font-size="4.4" font-weight="bold" fill="#111" stroke="#111" stroke-width="0.12" textLength="5.1" lengthAdjust="spacingAndGlyphs">80</text>
<text x="210.94" y="307.38" font-size="4.4" font-weight="bold" fill="#111" stroke="#111" stroke-width="0.12" textLength="5.1" lengthAdjust="spacingAndGlyphs">90</text>
<text x="230.42" y="307.38" font-size="4.4" font-weight="bold" fill="#111" stroke="#111" stroke-width="0.12" textLength="7.65" lengthAdjust="spacingAndGlyphs">100</text>
<text x="251.18" y="307.38" font-size="4.4" font-weight="bold" fill="#111" stroke="#111" stroke-width="0.12" textLength="7.65" lengthAdjust="spacingAndGlyphs">110</text>
<text x="98.85" y="319.36" font-size="6.93" font-weight="bold" fill="#000" stroke="#000" stroke-width="0.25" textLength="73.5" lengthAdjust="spacingAndGlyphs">Time after infusion (hours)</text>
<text transform="translate(10.91,252.85) rotate(-90)" font-size="4.5" font-weight="bold" fill="#111" stroke="#111" stroke-width="0.15" textLength="35.7" lengthAdjust="spacingAndGlyphs">VWF:RCo (IU/dL)</text>
<text x="194.2" y="178.81" font-size="5.3" font-weight="bold" fill="#000" stroke="#000" stroke-width="0.22" textLength="50.7" lengthAdjust="spacingAndGlyphs">rVWF-rFVIII VWF:RCo</text>
<line x1="208.75" y1="183.8" x2="215" y2="183.8" stroke="#b8454b" stroke-width="1.0"/>
<path d="M210.28 183.8L211.88 182.2L213.47 183.8L211.88 185.4Z" fill="#b8454b"/>
<text x="217" y="185.6" font-size="5.0" fill="#111" stroke="#111" stroke-width="0.18" textLength="28" lengthAdjust="spacingAndGlyphs">Subject #21</text>
<text x="1.3" y="179.5" font-size="12" font-weight="bold" fill="#000" stroke="#000" stroke-width="0.45">C</text>
<polyline points="27.22,189.93 27.74,197.3 28.78,203.75 32.93,213.89 39.15,243.37 45.38,254.43 51.61,259.96 76.51,274.7 84.81,277.46 93.11,281.15 126.32,287.05 176.13,292.02 225.94,294.23" fill="none" stroke="#7d95b0" stroke-width="0.65"/>
<polyline points="27.22,202.83 27.74,208.36 28.78,212.96 32.93,231.39 39.15,244.29 45.38,259.04 51.61,261.8 76.51,275.62 84.81,278.39 93.11,281.15 126.32,288.52 176.13,292.67 225.94,294.97" fill="none" stroke="#7d95b0" stroke-width="0.65"/>
<polyline points="27.22,214.81 27.74,218.49 28.78,222.18 32.93,236 39.15,250.74 45.38,261.8 51.61,263.64 76.51,277.46 84.81,280.23 93.11,282.07 126.32,289.44 176.13,293.59 225.94,295.89" fill="none" stroke="#7d95b0" stroke-width="0.65"/>
<polyline points="27.22,226.79 27.74,228.63 28.78,230.47 32.93,241.53 39.15,256.27 45.38,263.64 51.61,266.41 76.51,279.31 84.81,281.15 93.11,283.91 126.32,290.36 176.13,294.51 225.94,296.35" fill="none" stroke="#7d95b0" stroke-width="0.65"/>
<polyline points="27.22,236.92 27.74,237.84 28.78,239.69 32.93,248.9 39.15,256.27 45.38,265.49 51.61,267.33 76.51,280.23 84.81,282.99 93.11,284.84 126.32,291.29 176.13,294.97 225.94,296.81" fill="none" stroke="#7d95b0" stroke-width="0.65"/>
<polyline points="27.22,239.69 27.74,241.53 28.78,243.37 32.93,253.51 39.15,262.72 45.38,268.25 51.61,270.09 76.51,281.15 84.81,283.91 93.11,286.22 126.32,292.21 176.13,295.89 225.94,297.27" fill="none" stroke="#7d95b0" stroke-width="0.65"/>
<polyline points="27.22,243.37 27.74,245.21 28.78,247.06 32.93,258.11 39.15,262.72 45.38,271.01 51.61,271.94 76.51,282.07 84.81,284.84 93.11,287.6 126.32,292.67 176.13,296.35 225.94,297.74" fill="none" stroke="#7d95b0" stroke-width="0.65"/>
<polyline points="27.22,247.06 27.74,247.98 28.78,249.82 32.93,263.64 39.15,268.25 45.38,272.86 51.61,273.78 76.51,282.99 84.81,285.76 93.11,288.52 126.32,293.13 176.13,296.81 225.94,298.66" fill="none" stroke="#7d95b0" stroke-width="0.65"/>
<polyline points="27.22,249.82 27.74,250.74 28.78,252.59 32.93,267.33 39.15,268.25 45.38,273.78 51.61,275.62 76.51,283.91 84.81,286.68 93.11,289.44 126.32,294.05 176.13,297.74 225.94,299.12" fill="none" stroke="#7d95b0" stroke-width="0.65"/>
<polyline points="27.22,252.59 27.74,253.51 28.78,254.43 32.93,263.64 39.15,270.09 45.38,274.7 51.61,276.54 76.51,284.84 84.81,287.6 93.11,290.36 126.32,294.97 176.13,299.76 225.94,300.04" fill="none" stroke="#7d95b0" stroke-width="0.65"/>
<rect x="26.52" y="189.23" width="1.4" height="1.4" fill="#2e4868"/>
<rect x="27.04" y="196.6" width="1.4" height="1.4" fill="#2e4868"/>
<rect x="28.08" y="203.05" width="1.4" height="1.4" fill="#2e4868"/>
<rect x="32.23" y="213.19" width="1.4" height="1.4" fill="#2e4868"/>
<rect x="38.45" y="242.67" width="1.4" height="1.4" fill="#2e4868"/>
<rect x="44.68" y="253.73" width="1.4" height="1.4" fill="#2e4868"/>
<rect x="50.91" y="259.26" width="1.4" height="1.4" fill="#2e4868"/>
<rect x="75.81" y="274" width="1.4" height="1.4" fill="#2e4868"/>
<rect x="84.11" y="276.76" width="1.4" height="1.4" fill="#2e4868"/>
<rect x="92.41" y="280.45" width="1.4" height="1.4" fill="#2e4868"/>
<rect x="125.62" y="286.35" width="1.4" height="1.4" fill="#2e4868"/>
<rect x="175.43" y="291.32" width="1.4" height="1.4" fill="#2e4868"/>
<rect x="225.24" y="293.53" width="1.4" height="1.4" fill="#2e4868"/>
<rect x="26.52" y="202.13" width="1.4" height="1.4" fill="#2e4868"/>
<rect x="27.04" y="207.66" width="1.4" height="1.4" fill="#2e4868"/>
<rect x="28.08" y="212.26" width="1.4" height="1.4" fill="#2e4868"/>
<rect x="32.23" y="230.69" width="1.4" height="1.4" fill="#2e4868"/>
<rect x="38.45" y="243.59" width="1.4" height="1.4" fill="#2e4868"/>
<rect x="44.68" y="258.34" width="1.4" height="1.4" fill="#2e4868"/>
<rect x="50.91" y="261.1" width="1.4" height="1.4" fill="#2e4868"/>
<rect x="75.81" y="274.92" width="1.4" height="1.4" fill="#2e4868"/>
<rect x="84.11" y="277.69" width="1.4" height="1.4" fill="#2e4868"/>
<rect x="92.41" y="280.45" width="1.4" height="1.4" fill="#2e4868"/>
<rect x="125.62" y="287.82" width="1.4" height="1.4" fill="#2e4868"/>
<rect x="175.43" y="291.97" width="1.4" height="1.4" fill="#2e4868"/>
<rect x="225.24" y="294.27" width="1.4" height="1.4" fill="#2e4868"/>
<rect x="26.52" y="214.11" width="1.4" height="1.4" fill="#2e4868"/>
<rect x="27.04" y="217.79" width="1.4" height="1.4" fill="#2e4868"/>
<rect x="28.08" y="221.48" width="1.4" height="1.4" fill="#2e4868"/>
<rect x="32.23" y="235.3" width="1.4" height="1.4" fill="#2e4868"/>
<rect x="38.45" y="250.04" width="1.4" height="1.4" fill="#2e4868"/>
<rect x="44.68" y="261.1" width="1.4" height="1.4" fill="#2e4868"/>
<rect x="50.91" y="262.94" width="1.4" height="1.4" fill="#2e4868"/>
<rect x="75.81" y="276.76" width="1.4" height="1.4" fill="#2e4868"/>
<rect x="84.11" y="279.53" width="1.4" height="1.4" fill="#2e4868"/>
<rect x="92.41" y="281.37" width="1.4" height="1.4" fill="#2e4868"/>
<rect x="125.62" y="288.74" width="1.4" height="1.4" fill="#2e4868"/>
<rect x="175.43" y="292.89" width="1.4" height="1.4" fill="#2e4868"/>
<rect x="225.24" y="295.19" width="1.4" height="1.4" fill="#2e4868"/>
<rect x="26.52" y="226.09" width="1.4" height="1.4" fill="#2e4868"/>
<rect x="27.04" y="227.93" width="1.4" height="1.4" fill="#2e4868"/>
<rect x="28.08" y="229.77" width="1.4" height="1.4" fill="#2e4868"/>
<rect x="32.23" y="240.83" width="1.4" height="1.4" fill="#2e4868"/>
<rect x="38.45" y="255.57" width="1.4" height="1.4" fill="#2e4868"/>
<rect x="44.68" y="262.94" width="1.4" height="1.4" fill="#2e4868"/>
<rect x="50.91" y="265.71" width="1.4" height="1.4" fill="#2e4868"/>
<rect x="75.81" y="278.61" width="1.4" height="1.4" fill="#2e4868"/>
<rect x="84.11" y="280.45" width="1.4" height="1.4" fill="#2e4868"/>
<rect x="92.41" y="283.21" width="1.4" height="1.4" fill="#2e4868"/>
<rect x="125.62" y="289.66" width="1.4" height="1.4" fill="#2e4868"/>
<rect x="175.43" y="293.81" width="1.4" height="1.4" fill="#2e4868"/>
<rect x="225.24" y="295.65" width="1.4" height="1.4" fill="#2e4868"/>
<rect x="26.52" y="236.22" width="1.4" height="1.4" fill="#2e4868"/>
<rect x="27.04" y="237.14" width="1.4" height="1.4" fill="#2e4868"/>
<rect x="28.08" y="238.99" width="1.4" height="1.4" fill="#2e4868"/>
<rect x="32.23" y="248.2" width="1.4" height="1.4" fill="#2e4868"/>
<rect x="38.45" y="255.57" width="1.4" height="1.4" fill="#2e4868"/>
<rect x="44.68" y="264.79" width="1.4" height="1.4" fill="#2e4868"/>
<rect x="50.91" y="266.63" width="1.4" height="1.4" fill="#2e4868"/>
<rect x="75.81" y="279.53" width="1.4" height="1.4" fill="#2e4868"/>
<rect x="84.11" y="282.29" width="1.4" height="1.4" fill="#2e4868"/>
<rect x="92.41" y="284.14" width="1.4" height="1.4" fill="#2e4868"/>
<rect x="125.62" y="290.59" width="1.4" height="1.4" fill="#2e4868"/>
<rect x="175.43" y="294.27" width="1.4" height="1.4" fill="#2e4868"/>
<rect x="225.24" y="296.11" width="1.4" height="1.4" fill="#2e4868"/>
<rect x="26.52" y="238.99" width="1.4" height="1.4" fill="#2e4868"/>
<rect x="27.04" y="240.83" width="1.4" height="1.4" fill="#2e4868"/>
<rect x="28.08" y="242.67" width="1.4" height="1.4" fill="#2e4868"/>
<rect x="32.23" y="252.81" width="1.4" height="1.4" fill="#2e4868"/>
<rect x="38.45" y="262.02" width="1.4" height="1.4" fill="#2e4868"/>
<rect x="44.68" y="267.55" width="1.4" height="1.4" fill="#2e4868"/>
<rect x="50.91" y="269.39" width="1.4" height="1.4" fill="#2e4868"/>
<rect x="75.81" y="280.45" width="1.4" height="1.4" fill="#2e4868"/>
<rect x="84.11" y="283.21" width="1.4" height="1.4" fill="#2e4868"/>
<rect x="92.41" y="285.52" width="1.4" height="1.4" fill="#2e4868"/>
<rect x="125.62" y="291.51" width="1.4" height="1.4" fill="#2e4868"/>
<rect x="175.43" y="295.19" width="1.4" height="1.4" fill="#2e4868"/>
<rect x="225.24" y="296.57" width="1.4" height="1.4" fill="#2e4868"/>
<rect x="26.52" y="242.67" width="1.4" height="1.4" fill="#2e4868"/>
<rect x="27.04" y="244.51" width="1.4" height="1.4" fill="#2e4868"/>
<rect x="28.08" y="246.36" width="1.4" height="1.4" fill="#2e4868"/>
<rect x="32.23" y="257.41" width="1.4" height="1.4" fill="#2e4868"/>
<rect x="38.45" y="262.02" width="1.4" height="1.4" fill="#2e4868"/>
<rect x="44.68" y="270.31" width="1.4" height="1.4" fill="#2e4868"/>
<rect x="50.91" y="271.24" width="1.4" height="1.4" fill="#2e4868"/>
<rect x="75.81" y="281.37" width="1.4" height="1.4" fill="#2e4868"/>
<rect x="84.11" y="284.14" width="1.4" height="1.4" fill="#2e4868"/>
<rect x="92.41" y="286.9" width="1.4" height="1.4" fill="#2e4868"/>
<rect x="125.62" y="291.97" width="1.4" height="1.4" fill="#2e4868"/>
<rect x="175.43" y="295.65" width="1.4" height="1.4" fill="#2e4868"/>
<rect x="225.24" y="297.04" width="1.4" height="1.4" fill="#2e4868"/>
<rect x="26.52" y="246.36" width="1.4" height="1.4" fill="#2e4868"/>
<rect x="27.04" y="247.28" width="1.4" height="1.4" fill="#2e4868"/>
<rect x="28.08" y="249.12" width="1.4" height="1.4" fill="#2e4868"/>
<rect x="32.23" y="262.94" width="1.4" height="1.4" fill="#2e4868"/>
<rect x="38.45" y="267.55" width="1.4" height="1.4" fill="#2e4868"/>
<rect x="44.68" y="272.16" width="1.4" height="1.4" fill="#2e4868"/>
<rect x="50.91" y="273.08" width="1.4" height="1.4" fill="#2e4868"/>
<rect x="75.81" y="282.29" width="1.4" height="1.4" fill="#2e4868"/>
<rect x="84.11" y="285.06" width="1.4" height="1.4" fill="#2e4868"/>
<rect x="92.41" y="287.82" width="1.4" height="1.4" fill="#2e4868"/>
<rect x="125.62" y="292.43" width="1.4" height="1.4" fill="#2e4868"/>
<rect x="175.43" y="296.11" width="1.4" height="1.4" fill="#2e4868"/>
<rect x="225.24" y="297.96" width="1.4" height="1.4" fill="#2e4868"/>
<rect x="26.52" y="249.12" width="1.4" height="1.4" fill="#2e4868"/>
<rect x="27.04" y="250.04" width="1.4" height="1.4" fill="#2e4868"/>
<rect x="28.08" y="251.89" width="1.4" height="1.4" fill="#2e4868"/>
<rect x="32.23" y="266.63" width="1.4" height="1.4" fill="#2e4868"/>
<rect x="38.45" y="267.55" width="1.4" height="1.4" fill="#2e4868"/>
<rect x="44.68" y="273.08" width="1.4" height="1.4" fill="#2e4868"/>
<rect x="50.91" y="274.92" width="1.4" height="1.4" fill="#2e4868"/>
<rect x="75.81" y="283.21" width="1.4" height="1.4" fill="#2e4868"/>
<rect x="84.11" y="285.98" width="1.4" height="1.4" fill="#2e4868"/>
<rect x="92.41" y="288.74" width="1.4" height="1.4" fill="#2e4868"/>
<rect x="125.62" y="293.35" width="1.4" height="1.4" fill="#2e4868"/>
<rect x="175.43" y="297.04" width="1.4" height="1.4" fill="#2e4868"/>
<rect x="225.24" y="298.42" width="1.4" height="1.4" fill="#2e4868"/>
<rect x="26.52" y="251.89" width="1.4" height="1.4" fill="#2e4868"/>
<rect x="27.04" y="252.81" width="1.4" height="1.4" fill="#2e4868"/>
<rect x="28.08" y="253.73" width="1.4" height="1.4" fill="#2e4868"/>
<rect x="32.23" y="262.94" width="1.4" height="1.4" fill="#2e4868"/>
<rect x="38.45" y="269.39" width="1.4" height="1.4" fill="#2e4868"/>
<rect x="44.68" y="274" width="1.4" height="1.4" fill="#2e4868"/>
<rect x="50.91" y="275.84" width="1.4" height="1.4" fill="#2e4868"/>
<rect x="75.81" y="284.14" width="1.4" height="1.4" fill="#2e4868"/>
<rect x="84.11" y="286.9" width="1.4" height="1.4" fill="#2e4868"/>
<rect x="92.41" y="289.66" width="1.4" height="1.4" fill="#2e4868"/>
<rect x="125.62" y="294.27" width="1.4" height="1.4" fill="#2e4868"/>
<rect x="175.43" y="299.06" width="1.4" height="1.4" fill="#2e4868"/>
<rect x="225.24" y="299.34" width="1.4" height="1.4" fill="#2e4868"/>
<polyline points="26.91,252.59 27.74,256.27 28.78,265.49 32.93,287.6 39.15,294.97 45.38,299.21 51.61,299.58 76.51,300.13 84.81,300.13 93.11,300.13 126.32,300.13 176.13,300.13 225.94,300.13" fill="none" stroke="#b8454b" stroke-width="1.15"/>
<path d="M25.11 252.59L26.91 250.79L28.71 252.59L26.91 254.39Z" fill="#a8343c"/>
<path d="M25.94 256.27L27.74 254.47L29.54 256.27L27.74 258.07Z" fill="#a8343c"/>
<path d="M26.98 265.49L28.78 263.69L30.58 265.49L28.78 267.29Z" fill="#a8343c"/>
<path d="M31.13 287.6L32.93 285.8L34.73 287.6L32.93 289.4Z" fill="#a8343c"/>
<path d="M37.35 294.97L39.15 293.17L40.95 294.97L39.15 296.77Z" fill="#a8343c"/>
<path d="M43.58 299.21L45.38 297.41L47.18 299.21L45.38 301.01Z" fill="#a8343c"/>
<path d="M49.81 299.58L51.61 297.78L53.41 299.58L51.61 301.38Z" fill="#a8343c"/>
<path d="M74.71 300.13L76.51 298.33L78.31 300.13L76.51 301.93Z" fill="#a8343c"/>
<path d="M83.01 300.13L84.81 298.33L86.61 300.13L84.81 301.93Z" fill="#a8343c"/>
<path d="M91.31 300.13L93.11 298.33L94.91 300.13L93.11 301.93Z" fill="#a8343c"/>
<path d="M124.52 300.13L126.32 298.33L128.12 300.13L126.32 301.93Z" fill="#a8343c"/>
<path d="M174.33 300.13L176.13 298.33L177.93 300.13L176.13 301.93Z" fill="#a8343c"/>
<path d="M224.14 300.13L225.94 298.33L227.74 300.13L225.94 301.93Z" fill="#a8343c"/>
<line x1="287.3" y1="312.2" x2="515.4" y2="312.2" stroke="#cdcdcd" stroke-width="0.8"/>
<line x1="287.3" y1="294.58" x2="515.4" y2="294.58" stroke="#cdcdcd" stroke-width="0.8"/>
<line x1="287.3" y1="276.96" x2="515.4" y2="276.96" stroke="#cdcdcd" stroke-width="0.8"/>
<line x1="287.3" y1="259.34" x2="515.4" y2="259.34" stroke="#cdcdcd" stroke-width="0.8"/>
<line x1="287.3" y1="241.72" x2="515.4" y2="241.72" stroke="#cdcdcd" stroke-width="0.8"/>
<line x1="287.3" y1="224.11" x2="515.4" y2="224.11" stroke="#cdcdcd" stroke-width="0.8"/>
<line x1="287.3" y1="206.49" x2="515.4" y2="206.49" stroke="#cdcdcd" stroke-width="0.8"/>
<line x1="287.3" y1="188.87" x2="515.4" y2="188.87" stroke="#cdcdcd" stroke-width="0.8"/>
<line x1="287.3" y1="171.25" x2="515.4" y2="171.25" stroke="#cdcdcd" stroke-width="0.8"/>
<rect x="287.3" y="171.25" width="228.1" height="140.95" fill="none" stroke="#cdcdcd" stroke-width="0.8"/>
<line x1="287.3" y1="171.25" x2="287.3" y2="312.2" stroke="#c6c6c6" stroke-width="0.8"/>
<text x="281.8" y="313.63" font-size="5.1" font-weight="bold" fill="#111" stroke="#111" stroke-width="0.12" textLength="2.5" lengthAdjust="spacingAndGlyphs">0</text>
<text x="279.3" y="296.01" font-size="5.1" font-weight="bold" fill="#111" stroke="#111" stroke-width="0.12" textLength="5" lengthAdjust="spacingAndGlyphs">20</text>
<text x="279.3" y="278.39" font-size="5.1" font-weight="bold" fill="#111" stroke="#111" stroke-width="0.12" textLength="5" lengthAdjust="spacingAndGlyphs">40</text>
<text x="279.3" y="260.77" font-size="5.1" font-weight="bold" fill="#111" stroke="#111" stroke-width="0.12" textLength="5" lengthAdjust="spacingAndGlyphs">60</text>
<text x="279.3" y="243.15" font-size="5.1" font-weight="bold" fill="#111" stroke="#111" stroke-width="0.12" textLength="5" lengthAdjust="spacingAndGlyphs">80</text>
<text x="276.8" y="225.53" font-size="5.1" font-weight="bold" fill="#111" stroke="#111" stroke-width="0.12" textLength="7.5" lengthAdjust="spacingAndGlyphs">100</text>
<text x="276.8" y="207.91" font-size="5.1" font-weight="bold" fill="#111" stroke="#111" stroke-width="0.12" textLength="7.5" lengthAdjust="spacingAndGlyphs">120</text>
<text x="276.8" y="190.29" font-size="5.1" font-weight="bold" fill="#111" stroke="#111" stroke-width="0.12" textLength="7.5" lengthAdjust="spacingAndGlyphs">140</text>
<text x="276.8" y="172.68" font-size="5.1" font-weight="bold" fill="#111" stroke="#111" stroke-width="0.12" textLength="7.5" lengthAdjust="spacingAndGlyphs">160</text>
<text x="286.05" y="320.43" font-size="5.1" font-weight="bold" fill="#111" stroke="#111" stroke-width="0.12" textLength="2.5" lengthAdjust="spacingAndGlyphs">0</text>
<text x="305.54" y="320.43" font-size="5.1" font-weight="bold" fill="#111" stroke="#111" stroke-width="0.12" textLength="5" lengthAdjust="spacingAndGlyphs">10</text>
<text x="326.27" y="320.43" font-size="5.1" font-weight="bold" fill="#111" stroke="#111" stroke-width="0.12" textLength="5" lengthAdjust="spacingAndGlyphs">20</text>
<text x="347.01" y="320.43" font-size="5.1" font-weight="bold" fill="#111" stroke="#111" stroke-width="0.12" textLength="5" lengthAdjust="spacingAndGlyphs">30</text>
<text x="367.75" y="320.43" font-size="5.1" font-weight="bold" fill="#111" stroke="#111" stroke-width="0.12" textLength="5" lengthAdjust="spacingAndGlyphs">40</text>
<text x="388.48" y="320.43" font-size="5.1" font-weight="bold" fill="#111" stroke="#111" stroke-width="0.12" textLength="5" lengthAdjust="spacingAndGlyphs">50</text>
<text x="409.22" y="320.43" font-size="5.1" font-weight="bold" fill="#111" stroke="#111" stroke-width="0.12" textLength="5" lengthAdjust="spacingAndGlyphs">60</text>
<text x="429.95" y="320.43" font-size="5.1" font-weight="bold" fill="#111" stroke="#111" stroke-width="0.12" textLength="5" lengthAdjust="spacingAndGlyphs">70</text>
<text x="450.69" y="320.43" font-size="5.1" font-weight="bold" fill="#111" stroke="#111" stroke-width="0.12" textLength="5" lengthAdjust="spacingAndGlyphs">80</text>
<text x="471.43" y="320.43" font-size="5.1" font-weight="bold" fill="#111" stroke="#111" stroke-width="0.12" textLength="5" lengthAdjust="spacingAndGlyphs">90</text>
<text x="490.91" y="320.43" font-size="5.1" font-weight="bold" fill="#111" stroke="#111" stroke-width="0.12" textLength="7.5" lengthAdjust="spacingAndGlyphs">100</text>
<text x="511.65" y="320.43" font-size="5.1" font-weight="bold" fill="#111" stroke="#111" stroke-width="0.12" textLength="7.5" lengthAdjust="spacingAndGlyphs">110</text>
<text x="372.3" y="331.68" font-size="7.3" font-weight="bold" fill="#000" stroke="#000" stroke-width="0.25" textLength="77.4" lengthAdjust="spacingAndGlyphs">Time after infusion (hours)</text>
<text transform="translate(271.62,258.1) rotate(-90)" font-size="4.9" font-weight="bold" fill="#111" stroke="#111" stroke-width="0.15" textLength="31" lengthAdjust="spacingAndGlyphs">FVIII:C (IU/dL)</text>
<text x="457" y="181.82" font-size="7.0" font-weight="bold" fill="#000" stroke="#000" stroke-width="0.22" textLength="48.75" lengthAdjust="spacingAndGlyphs">rVWF-rFVIII FVIII:C</text>
<line x1="463.75" y1="195" x2="475" y2="195" stroke="#b0283a" stroke-width="1.6"/>
<path d="M467.18 195L469.38 192.8L471.57 195L469.38 197.2Z" fill="#b0283a"/>
<text x="476.5" y="197.16" font-size="6.0" fill="#111" stroke="#111" stroke-width="0.18" textLength="29" lengthAdjust="spacingAndGlyphs">Subject #23</text>
<text x="263" y="180.3" font-size="12" font-weight="bold" fill="#000" stroke="#000" stroke-width="0.45">D</text>
<polyline points="287.82,228.51 288.34,231.15 289.37,232.92 293.52,237.32 299.74,190.63 305.96,248.77 312.18,250.53 337.07,240.84 345.36,230.27 353.66,234.68 386.83,254.06 436.6,262.87 486.37,287.53" fill="none" stroke="#8aa3bf" stroke-width="0.65"/>
<polyline points="287.82,219.7 288.34,224.11 289.37,228.51 293.52,230.27 299.74,217.06 305.96,217.06 312.18,189.75 337.07,201.2 345.36,182.7 353.66,189.75 386.83,217.06 436.6,243.49 486.37,273.44" fill="none" stroke="#8aa3bf" stroke-width="0.65"/>
<polyline points="287.82,215.3 288.34,219.7 289.37,224.11 293.52,225.87 299.74,210.01 305.96,221.46 312.18,200.32 337.07,206.49 345.36,203.84 353.66,200.32 386.83,227.63 436.6,257.58 486.37,291.06" fill="none" stroke="#8aa3bf" stroke-width="0.65"/>
<polyline points="287.82,213.53 288.34,217.06 289.37,221.46 293.52,217.94 299.74,222.34 305.96,226.75 312.18,206.49 337.07,210.01 345.36,209.13 353.66,206.49 386.83,240.84 436.6,276.08 486.37,294.58" fill="none" stroke="#8aa3bf" stroke-width="0.65"/>
<polyline points="287.82,232.92 288.34,234.68 289.37,236.44 293.52,238.2 299.74,238.2 305.96,234.68 312.18,218.82 337.07,224.11 345.36,216.18 353.66,221.46 386.83,254.06 436.6,284.89 486.37,296.34" fill="none" stroke="#8aa3bf" stroke-width="0.65"/>
<polyline points="287.82,237.32 288.34,239.08 289.37,241.72 293.52,243.49 299.74,245.25 305.96,240.84 312.18,240.84 337.07,240.84 345.36,232.92 353.66,234.68 386.83,255.82 436.6,287.53 486.37,298.11" fill="none" stroke="#8aa3bf" stroke-width="0.65"/>
<polyline points="287.82,241.72 288.34,243.49 289.37,245.25 293.52,244.37 299.74,247.01 305.96,248.77 312.18,244.37 337.07,243.49 345.36,268.15 353.66,266.39 386.83,271.68 436.6,290.18 486.37,298.99" fill="none" stroke="#8aa3bf" stroke-width="0.65"/>
<polyline points="287.82,246.13 288.34,247.01 289.37,247.89 293.52,254.06 299.74,261.11 305.96,256.7 312.18,257.58 337.07,258.46 345.36,278.72 353.66,278.72 386.83,278.72 436.6,292.82 486.37,299.87" fill="none" stroke="#8aa3bf" stroke-width="0.65"/>
<polyline points="287.82,250.53 288.34,250.53 289.37,252.3 293.52,269.03 299.74,269.03 305.96,268.15 312.18,263.75 337.07,268.15 345.36,257.58 353.66,254.06 386.83,259.34 436.6,294.58 486.37,300.75" fill="none" stroke="#8aa3bf" stroke-width="0.65"/>
<polyline points="287.82,254.94 288.34,255.82 289.37,257.58 293.52,261.99 299.74,272.56 305.96,268.15 312.18,263.75 337.07,259.34 345.36,268.15 353.66,278.72 386.83,293.7 436.6,302.51 486.37,303.39" fill="none" stroke="#8aa3bf" stroke-width="0.65"/>
<polyline points="287.82,225.87 288.34,227.63 289.37,229.39 293.52,230.27 299.74,224.11 305.96,224.99 312.18,225.87 337.07,232.92 345.36,241.72 353.66,250.53 386.83,257.58 436.6,298.99 486.37,302.51" fill="none" stroke="#8aa3bf" stroke-width="0.65"/>
<polyline points="287.82,218.82 288.34,221.46 289.37,224.11 293.52,228.51 299.74,217.06 305.96,217.06 312.18,218.82 337.07,224.11 345.36,226.75 353.66,235.56 386.83,259.34 436.6,285.77 486.37,300.75" fill="none" stroke="#8aa3bf" stroke-width="0.65"/>
<polyline points="287.82,224.11 288.34,225.87 289.37,227.63 293.52,224.11 299.74,238.2 305.96,233.8 312.18,242.61 337.07,237.32 345.36,234.68 353.66,244.37 386.83,254.94 436.6,294.58 486.37,302.51" fill="none" stroke="#8aa3bf" stroke-width="0.65"/>
<polyline points="287.82,199.44 288.34,210.89 289.37,217.06 293.52,234.68 299.74,224.11 305.96,234.68 312.18,225.87 337.07,230.27 345.36,247.01 353.66,243.49 386.83,256.7 436.6,291.06 486.37,298.11" fill="none" stroke="#8aa3bf" stroke-width="0.65"/>
<rect x="286.82" y="227.51" width="2.0" height="2.0" fill="#4c78a8"/>
<rect x="287.34" y="230.15" width="2.0" height="2.0" fill="#4c78a8"/>
<rect x="288.37" y="231.92" width="2.0" height="2.0" fill="#4c78a8"/>
<rect x="292.52" y="236.32" width="2.0" height="2.0" fill="#4c78a8"/>
<rect x="298.74" y="189.63" width="2.0" height="2.0" fill="#4c78a8"/>
<rect x="304.96" y="247.77" width="2.0" height="2.0" fill="#4c78a8"/>
<rect x="311.18" y="249.53" width="2.0" height="2.0" fill="#4c78a8"/>
<rect x="336.07" y="239.84" width="2.0" height="2.0" fill="#4c78a8"/>
<rect x="344.36" y="229.27" width="2.0" height="2.0" fill="#4c78a8"/>
<rect x="352.66" y="233.68" width="2.0" height="2.0" fill="#4c78a8"/>
<rect x="385.83" y="253.06" width="2.0" height="2.0" fill="#4c78a8"/>
<rect x="435.6" y="261.87" width="2.0" height="2.0" fill="#4c78a8"/>
<rect x="485.37" y="286.53" width="2.0" height="2.0" fill="#4c78a8"/>
<rect x="286.82" y="218.7" width="2.0" height="2.0" fill="#4c78a8"/>
<rect x="287.34" y="223.11" width="2.0" height="2.0" fill="#4c78a8"/>
<rect x="288.37" y="227.51" width="2.0" height="2.0" fill="#4c78a8"/>
<rect x="292.52" y="229.27" width="2.0" height="2.0" fill="#4c78a8"/>
<rect x="298.74" y="216.06" width="2.0" height="2.0" fill="#4c78a8"/>
<rect x="304.96" y="216.06" width="2.0" height="2.0" fill="#4c78a8"/>
<rect x="311.18" y="188.75" width="2.0" height="2.0" fill="#4c78a8"/>
<rect x="336.07" y="200.2" width="2.0" height="2.0" fill="#4c78a8"/>
<rect x="344.36" y="181.7" width="2.0" height="2.0" fill="#4c78a8"/>
<rect x="352.66" y="188.75" width="2.0" height="2.0" fill="#4c78a8"/>
<rect x="385.83" y="216.06" width="2.0" height="2.0" fill="#4c78a8"/>
<rect x="435.6" y="242.49" width="2.0" height="2.0" fill="#4c78a8"/>
<rect x="485.37" y="272.44" width="2.0" height="2.0" fill="#4c78a8"/>
<rect x="286.82" y="214.3" width="2.0" height="2.0" fill="#4c78a8"/>
<rect x="287.34" y="218.7" width="2.0" height="2.0" fill="#4c78a8"/>
<rect x="288.37" y="223.11" width="2.0" height="2.0" fill="#4c78a8"/>
<rect x="292.52" y="224.87" width="2.0" height="2.0" fill="#4c78a8"/>
<rect x="298.74" y="209.01" width="2.0" height="2.0" fill="#4c78a8"/>
<rect x="304.96" y="220.46" width="2.0" height="2.0" fill="#4c78a8"/>
<rect x="311.18" y="199.32" width="2.0" height="2.0" fill="#4c78a8"/>
<rect x="336.07" y="205.49" width="2.0" height="2.0" fill="#4c78a8"/>
<rect x="344.36" y="202.84" width="2.0" height="2.0" fill="#4c78a8"/>
<rect x="352.66" y="199.32" width="2.0" height="2.0" fill="#4c78a8"/>
<rect x="385.83" y="226.63" width="2.0" height="2.0" fill="#4c78a8"/>
<rect x="435.6" y="256.58" width="2.0" height="2.0" fill="#4c78a8"/>
<rect x="485.37" y="290.06" width="2.0" height="2.0" fill="#4c78a8"/>
<rect x="286.82" y="212.53" width="2.0" height="2.0" fill="#4c78a8"/>
<rect x="287.34" y="216.06" width="2.0" height="2.0" fill="#4c78a8"/>
<rect x="288.37" y="220.46" width="2.0" height="2.0" fill="#4c78a8"/>
<rect x="292.52" y="216.94" width="2.0" height="2.0" fill="#4c78a8"/>
<rect x="298.74" y="221.34" width="2.0" height="2.0" fill="#4c78a8"/>
<rect x="304.96" y="225.75" width="2.0" height="2.0" fill="#4c78a8"/>
<rect x="311.18" y="205.49" width="2.0" height="2.0" fill="#4c78a8"/>
<rect x="336.07" y="209.01" width="2.0" height="2.0" fill="#4c78a8"/>
<rect x="344.36" y="208.13" width="2.0" height="2.0" fill="#4c78a8"/>
<rect x="352.66" y="205.49" width="2.0" height="2.0" fill="#4c78a8"/>
<rect x="385.83" y="239.84" width="2.0" height="2.0" fill="#4c78a8"/>
<rect x="435.6" y="275.08" width="2.0" height="2.0" fill="#4c78a8"/>
<rect x="485.37" y="293.58" width="2.0" height="2.0" fill="#4c78a8"/>
<rect x="286.82" y="231.92" width="2.0" height="2.0" fill="#4c78a8"/>
<rect x="287.34" y="233.68" width="2.0" height="2.0" fill="#4c78a8"/>
<rect x="288.37" y="235.44" width="2.0" height="2.0" fill="#4c78a8"/>
<rect x="292.52" y="237.2" width="2.0" height="2.0" fill="#4c78a8"/>
<rect x="298.74" y="237.2" width="2.0" height="2.0" fill="#4c78a8"/>
<rect x="304.96" y="233.68" width="2.0" height="2.0" fill="#4c78a8"/>
<rect x="311.18" y="217.82" width="2.0" height="2.0" fill="#4c78a8"/>
<rect x="336.07" y="223.11" width="2.0" height="2.0" fill="#4c78a8"/>
<rect x="344.36" y="215.18" width="2.0" height="2.0" fill="#4c78a8"/>
<rect x="352.66" y="220.46" width="2.0" height="2.0" fill="#4c78a8"/>
<rect x="385.83" y="253.06" width="2.0" height="2.0" fill="#4c78a8"/>
<rect x="435.6" y="283.89" width="2.0" height="2.0" fill="#4c78a8"/>
<rect x="485.37" y="295.34" width="2.0" height="2.0" fill="#4c78a8"/>
<rect x="286.82" y="236.32" width="2.0" height="2.0" fill="#4c78a8"/>
<rect x="287.34" y="238.08" width="2.0" height="2.0" fill="#4c78a8"/>
<rect x="288.37" y="240.72" width="2.0" height="2.0" fill="#4c78a8"/>
<rect x="292.52" y="242.49" width="2.0" height="2.0" fill="#4c78a8"/>
<rect x="298.74" y="244.25" width="2.0" height="2.0" fill="#4c78a8"/>
<rect x="304.96" y="239.84" width="2.0" height="2.0" fill="#4c78a8"/>
<rect x="311.18" y="239.84" width="2.0" height="2.0" fill="#4c78a8"/>
<rect x="336.07" y="239.84" width="2.0" height="2.0" fill="#4c78a8"/>
<rect x="344.36" y="231.92" width="2.0" height="2.0" fill="#4c78a8"/>
<rect x="352.66" y="233.68" width="2.0" height="2.0" fill="#4c78a8"/>
<rect x="385.83" y="254.82" width="2.0" height="2.0" fill="#4c78a8"/>
<rect x="435.6" y="286.53" width="2.0" height="2.0" fill="#4c78a8"/>
<rect x="485.37" y="297.11" width="2.0" height="2.0" fill="#4c78a8"/>
<rect x="286.82" y="240.72" width="2.0" height="2.0" fill="#4c78a8"/>
<rect x="287.34" y="242.49" width="2.0" height="2.0" fill="#4c78a8"/>
<rect x="288.37" y="244.25" width="2.0" height="2.0" fill="#4c78a8"/>
<rect x="292.52" y="243.37" width="2.0" height="2.0" fill="#4c78a8"/>
<rect x="298.74" y="246.01" width="2.0" height="2.0" fill="#4c78a8"/>
<rect x="304.96" y="247.77" width="2.0" height="2.0" fill="#4c78a8"/>
<rect x="311.18" y="243.37" width="2.0" height="2.0" fill="#4c78a8"/>
<rect x="336.07" y="242.49" width="2.0" height="2.0" fill="#4c78a8"/>
<rect x="344.36" y="267.15" width="2.0" height="2.0" fill="#4c78a8"/>
<rect x="352.66" y="265.39" width="2.0" height="2.0" fill="#4c78a8"/>
<rect x="385.83" y="270.68" width="2.0" height="2.0" fill="#4c78a8"/>
<rect x="435.6" y="289.18" width="2.0" height="2.0" fill="#4c78a8"/>
<rect x="485.37" y="297.99" width="2.0" height="2.0" fill="#4c78a8"/>
<rect x="286.82" y="245.13" width="2.0" height="2.0" fill="#4c78a8"/>
<rect x="287.34" y="246.01" width="2.0" height="2.0" fill="#4c78a8"/>
<rect x="288.37" y="246.89" width="2.0" height="2.0" fill="#4c78a8"/>
<rect x="292.52" y="253.06" width="2.0" height="2.0" fill="#4c78a8"/>
<rect x="298.74" y="260.11" width="2.0" height="2.0" fill="#4c78a8"/>
<rect x="304.96" y="255.7" width="2.0" height="2.0" fill="#4c78a8"/>
<rect x="311.18" y="256.58" width="2.0" height="2.0" fill="#4c78a8"/>
<rect x="336.07" y="257.46" width="2.0" height="2.0" fill="#4c78a8"/>
<rect x="344.36" y="277.72" width="2.0" height="2.0" fill="#4c78a8"/>
<rect x="352.66" y="277.72" width="2.0" height="2.0" fill="#4c78a8"/>
<rect x="385.83" y="277.72" width="2.0" height="2.0" fill="#4c78a8"/>
<rect x="435.6" y="291.82" width="2.0" height="2.0" fill="#4c78a8"/>
<rect x="485.37" y="298.87" width="2.0" height="2.0" fill="#4c78a8"/>
<rect x="286.82" y="249.53" width="2.0" height="2.0" fill="#4c78a8"/>
<rect x="287.34" y="249.53" width="2.0" height="2.0" fill="#4c78a8"/>
<rect x="288.37" y="251.3" width="2.0" height="2.0" fill="#4c78a8"/>
<rect x="292.52" y="268.03" width="2.0" height="2.0" fill="#4c78a8"/>
<rect x="298.74" y="268.03" width="2.0" height="2.0" fill="#4c78a8"/>
<rect x="304.96" y="267.15" width="2.0" height="2.0" fill="#4c78a8"/>
<rect x="311.18" y="262.75" width="2.0" height="2.0" fill="#4c78a8"/>
<rect x="336.07" y="267.15" width="2.0" height="2.0" fill="#4c78a8"/>
<rect x="344.36" y="256.58" width="2.0" height="2.0" fill="#4c78a8"/>
<rect x="352.66" y="253.06" width="2.0" height="2.0" fill="#4c78a8"/>
<rect x="385.83" y="258.34" width="2.0" height="2.0" fill="#4c78a8"/>
<rect x="435.6" y="293.58" width="2.0" height="2.0" fill="#4c78a8"/>
<rect x="485.37" y="299.75" width="2.0" height="2.0" fill="#4c78a8"/>
<rect x="286.82" y="253.94" width="2.0" height="2.0" fill="#4c78a8"/>
<rect x="287.34" y="254.82" width="2.0" height="2.0" fill="#4c78a8"/>
<rect x="288.37" y="256.58" width="2.0" height="2.0" fill="#4c78a8"/>
<rect x="292.52" y="260.99" width="2.0" height="2.0" fill="#4c78a8"/>
<rect x="298.74" y="271.56" width="2.0" height="2.0" fill="#4c78a8"/>
<rect x="304.96" y="267.15" width="2.0" height="2.0" fill="#4c78a8"/>
<rect x="311.18" y="262.75" width="2.0" height="2.0" fill="#4c78a8"/>
<rect x="336.07" y="258.34" width="2.0" height="2.0" fill="#4c78a8"/>
<rect x="344.36" y="267.15" width="2.0" height="2.0" fill="#4c78a8"/>
<rect x="352.66" y="277.72" width="2.0" height="2.0" fill="#4c78a8"/>
<rect x="385.83" y="292.7" width="2.0" height="2.0" fill="#4c78a8"/>
<rect x="435.6" y="301.51" width="2.0" height="2.0" fill="#4c78a8"/>
<rect x="485.37" y="302.39" width="2.0" height="2.0" fill="#4c78a8"/>
<rect x="286.82" y="224.87" width="2.0" height="2.0" fill="#4c78a8"/>
<rect x="287.34" y="226.63" width="2.0" height="2.0" fill="#4c78a8"/>
<rect x="288.37" y="228.39" width="2.0" height="2.0" fill="#4c78a8"/>
<rect x="292.52" y="229.27" width="2.0" height="2.0" fill="#4c78a8"/>
<rect x="298.74" y="223.11" width="2.0" height="2.0" fill="#4c78a8"/>
<rect x="304.96" y="223.99" width="2.0" height="2.0" fill="#4c78a8"/>
<rect x="311.18" y="224.87" width="2.0" height="2.0" fill="#4c78a8"/>
<rect x="336.07" y="231.92" width="2.0" height="2.0" fill="#4c78a8"/>
<rect x="344.36" y="240.72" width="2.0" height="2.0" fill="#4c78a8"/>
<rect x="352.66" y="249.53" width="2.0" height="2.0" fill="#4c78a8"/>
<rect x="385.83" y="256.58" width="2.0" height="2.0" fill="#4c78a8"/>
<rect x="435.6" y="297.99" width="2.0" height="2.0" fill="#4c78a8"/>
<rect x="485.37" y="301.51" width="2.0" height="2.0" fill="#4c78a8"/>
<rect x="286.82" y="217.82" width="2.0" height="2.0" fill="#4c78a8"/>
<rect x="287.34" y="220.46" width="2.0" height="2.0" fill="#4c78a8"/>
<rect x="288.37" y="223.11" width="2.0" height="2.0" fill="#4c78a8"/>
<rect x="292.52" y="227.51" width="2.0" height="2.0" fill="#4c78a8"/>
<rect x="298.74" y="216.06" width="2.0" height="2.0" fill="#4c78a8"/>
<rect x="304.96" y="216.06" width="2.0" height="2.0" fill="#4c78a8"/>
<rect x="311.18" y="217.82" width="2.0" height="2.0" fill="#4c78a8"/>
<rect x="336.07" y="223.11" width="2.0" height="2.0" fill="#4c78a8"/>
<rect x="344.36" y="225.75" width="2.0" height="2.0" fill="#4c78a8"/>
<rect x="352.66" y="234.56" width="2.0" height="2.0" fill="#4c78a8"/>
<rect x="385.83" y="258.34" width="2.0" height="2.0" fill="#4c78a8"/>
<rect x="435.6" y="284.77" width="2.0" height="2.0" fill="#4c78a8"/>
<rect x="485.37" y="299.75" width="2.0" height="2.0" fill="#4c78a8"/>
<rect x="286.82" y="223.11" width="2.0" height="2.0" fill="#4c78a8"/>
<rect x="287.34" y="224.87" width="2.0" height="2.0" fill="#4c78a8"/>
<rect x="288.37" y="226.63" width="2.0" height="2.0" fill="#4c78a8"/>
<rect x="292.52" y="223.11" width="2.0" height="2.0" fill="#4c78a8"/>
<rect x="298.74" y="237.2" width="2.0" height="2.0" fill="#4c78a8"/>
<rect x="304.96" y="232.8" width="2.0" height="2.0" fill="#4c78a8"/>
<rect x="311.18" y="241.61" width="2.0" height="2.0" fill="#4c78a8"/>
<rect x="336.07" y="236.32" width="2.0" height="2.0" fill="#4c78a8"/>
<rect x="344.36" y="233.68" width="2.0" height="2.0" fill="#4c78a8"/>
<rect x="352.66" y="243.37" width="2.0" height="2.0" fill="#4c78a8"/>
<rect x="385.83" y="253.94" width="2.0" height="2.0" fill="#4c78a8"/>
<rect x="435.6" y="293.58" width="2.0" height="2.0" fill="#4c78a8"/>
<rect x="485.37" y="301.51" width="2.0" height="2.0" fill="#4c78a8"/>
<rect x="286.82" y="198.44" width="2.0" height="2.0" fill="#4c78a8"/>
<rect x="287.34" y="209.89" width="2.0" height="2.0" fill="#4c78a8"/>
<rect x="288.37" y="216.06" width="2.0" height="2.0" fill="#4c78a8"/>
<rect x="292.52" y="233.68" width="2.0" height="2.0" fill="#4c78a8"/>
<rect x="298.74" y="223.11" width="2.0" height="2.0" fill="#4c78a8"/>
<rect x="304.96" y="233.68" width="2.0" height="2.0" fill="#4c78a8"/>
<rect x="311.18" y="224.87" width="2.0" height="2.0" fill="#4c78a8"/>
<rect x="336.07" y="229.27" width="2.0" height="2.0" fill="#4c78a8"/>
<rect x="344.36" y="246.01" width="2.0" height="2.0" fill="#4c78a8"/>
<rect x="352.66" y="242.49" width="2.0" height="2.0" fill="#4c78a8"/>
<rect x="385.83" y="255.7" width="2.0" height="2.0" fill="#4c78a8"/>
<rect x="435.6" y="290.06" width="2.0" height="2.0" fill="#4c78a8"/>
<rect x="485.37" y="297.11" width="2.0" height="2.0" fill="#4c78a8"/>
<polyline points="287.51,256.97 288.34,264.98 290,274.5 293.52,292.47 299.74,298.99 305.96,303.74 312.18,307.53 337.07,307 345.36,304.98 353.66,307 386.83,306.21 436.6,305.5 486.37,304.54" fill="none" stroke="#a52a3a" stroke-width="1.4" stroke-linejoin="round"/>
<path d="M285.06 256.97L287.51 254.52L289.96 256.97L287.51 259.42Z" fill="#e25a6b" stroke="#a81c2d" stroke-width="1.0"/>
<path d="M285.89 264.98L288.34 262.53L290.79 264.98L288.34 267.43Z" fill="#e25a6b" stroke="#a81c2d" stroke-width="1.0"/>
<path d="M287.55 274.5L290 272.05L292.45 274.5L290 276.95Z" fill="#e25a6b" stroke="#a81c2d" stroke-width="1.0"/>
<path d="M291.07 292.47L293.52 290.02L295.97 292.47L293.52 294.92Z" fill="#e25a6b" stroke="#a81c2d" stroke-width="1.0"/>
<path d="M297.29 298.99L299.74 296.54L302.19 298.99L299.74 301.44Z" fill="#e25a6b" stroke="#a81c2d" stroke-width="1.0"/>
<path d="M303.51 303.74L305.96 301.29L308.41 303.74L305.96 306.19Z" fill="#e25a6b" stroke="#a81c2d" stroke-width="1.0"/>
<path d="M309.73 307.53L312.18 305.08L314.63 307.53L312.18 309.98Z" fill="#e25a6b" stroke="#a81c2d" stroke-width="1.0"/>
<path d="M334.62 307L337.07 304.55L339.52 307L337.07 309.45Z" fill="#e25a6b" stroke="#a81c2d" stroke-width="1.0"/>
<path d="M342.91 304.98L345.36 302.53L347.81 304.98L345.36 307.43Z" fill="#e25a6b" stroke="#a81c2d" stroke-width="1.0"/>
<path d="M351.21 307L353.66 304.55L356.11 307L353.66 309.45Z" fill="#e25a6b" stroke="#a81c2d" stroke-width="1.0"/>
<path d="M384.38 306.21L386.83 303.76L389.28 306.21L386.83 308.66Z" fill="#e25a6b" stroke="#a81c2d" stroke-width="1.0"/>
<path d="M434.15 305.5L436.6 303.05L439.05 305.5L436.6 307.95Z" fill="#e25a6b" stroke="#a81c2d" stroke-width="1.0"/>
<path d="M483.92 304.54L486.37 302.09L488.82 304.54L486.37 306.99Z" fill="#e25a6b" stroke="#a81c2d" stroke-width="1.0"/>
<line x1="25.6" y1="489" x2="252.5" y2="489" stroke="#cdcdcd" stroke-width="0.8"/>
<line x1="25.6" y1="473.39" x2="252.5" y2="473.39" stroke="#cdcdcd" stroke-width="0.8"/>
<line x1="25.6" y1="457.78" x2="252.5" y2="457.78" stroke="#cdcdcd" stroke-width="0.8"/>
<line x1="25.6" y1="442.17" x2="252.5" y2="442.17" stroke="#cdcdcd" stroke-width="0.8"/>
<line x1="25.6" y1="426.56" x2="252.5" y2="426.56" stroke="#cdcdcd" stroke-width="0.8"/>
<line x1="25.6" y1="410.94" x2="252.5" y2="410.94" stroke="#cdcdcd" stroke-width="0.8"/>
<line x1="25.6" y1="395.33" x2="252.5" y2="395.33" stroke="#cdcdcd" stroke-width="0.8"/>
<line x1="25.6" y1="379.72" x2="252.5" y2="379.72" stroke="#cdcdcd" stroke-width="0.8"/>
<line x1="25.6" y1="364.11" x2="252.5" y2="364.11" stroke="#cdcdcd" stroke-width="0.8"/>
<line x1="25.6" y1="348.5" x2="252.5" y2="348.5" stroke="#cdcdcd" stroke-width="0.8"/>
<rect x="25.6" y="348.5" width="226.9" height="140.5" fill="none" stroke="#cdcdcd" stroke-width="0.8"/>
<line x1="25.6" y1="348.5" x2="25.6" y2="489" stroke="#c6c6c6" stroke-width="0.8"/>
<text x="16.75" y="490.93" font-size="6.5" font-weight="bold" fill="#111" stroke="#111" stroke-width="0.12" textLength="2.95" lengthAdjust="spacingAndGlyphs">0</text>
<text x="16.75" y="475.32" font-size="6.5" font-weight="bold" fill="#111" stroke="#111" stroke-width="0.12" textLength="2.95" lengthAdjust="spacingAndGlyphs">5</text>
<text x="13.8" y="459.7" font-size="6.5" font-weight="bold" fill="#111" stroke="#111" stroke-width="0.12" textLength="5.9" lengthAdjust="spacingAndGlyphs">10</text>
<text x="13.8" y="444.09" font-size="6.5" font-weight="bold" fill="#111" stroke="#111" stroke-width="0.12" textLength="5.9" lengthAdjust="spacingAndGlyphs">15</text>
<text x="13.8" y="428.48" font-size="6.5" font-weight="bold" fill="#111" stroke="#111" stroke-width="0.12" textLength="5.9" lengthAdjust="spacingAndGlyphs">20</text>
<text x="13.8" y="412.87" font-size="6.5" font-weight="bold" fill="#111" stroke="#111" stroke-width="0.12" textLength="5.9" lengthAdjust="spacingAndGlyphs">25</text>
<text x="13.8" y="397.26" font-size="6.5" font-weight="bold" fill="#111" stroke="#111" stroke-width="0.12" textLength="5.9" lengthAdjust="spacingAndGlyphs">30</text>
<text x="13.8" y="381.65" font-size="6.5" font-weight="bold" fill="#111" stroke="#111" stroke-width="0.12" textLength="5.9" lengthAdjust="spacingAndGlyphs">35</text>
<text x="13.8" y="366.04" font-size="6.5" font-weight="bold" fill="#111" stroke="#111" stroke-width="0.12" textLength="5.9" lengthAdjust="spacingAndGlyphs">40</text>
<text x="13.8" y="350.43" font-size="6.5" font-weight="bold" fill="#111" stroke="#111" stroke-width="0.12" textLength="5.9" lengthAdjust="spacingAndGlyphs">45</text>
<text x="24.12" y="498.93" font-size="6.5" font-weight="bold" fill="#111" stroke="#111" stroke-width="0.12" textLength="2.95" lengthAdjust="spacingAndGlyphs">0</text>
<text x="43.28" y="498.93" font-size="6.5" font-weight="bold" fill="#111" stroke="#111" stroke-width="0.12" textLength="5.9" lengthAdjust="spacingAndGlyphs">10</text>
<text x="63.9" y="498.93" font-size="6.5" font-weight="bold" fill="#111" stroke="#111" stroke-width="0.12" textLength="5.9" lengthAdjust="spacingAndGlyphs">20</text>
<text x="84.53" y="498.93" font-size="6.5" font-weight="bold" fill="#111" stroke="#111" stroke-width="0.12" textLength="5.9" lengthAdjust="spacingAndGlyphs">30</text>
<text x="105.16" y="498.93" font-size="6.5" font-weight="bold" fill="#111" stroke="#111" stroke-width="0.12" textLength="5.9" lengthAdjust="spacingAndGlyphs">40</text>
<text x="125.79" y="498.93" font-size="6.5" font-weight="bold" fill="#111" stroke="#111" stroke-width="0.12" textLength="5.9" lengthAdjust="spacingAndGlyphs">50</text>
<text x="146.41" y="498.93" font-size="6.5" font-weight="bold" fill="#111" stroke="#111" stroke-width="0.12" textLength="5.9" lengthAdjust="spacingAndGlyphs">60</text>
<text x="167.04" y="498.93" font-size="6.5" font-weight="bold" fill="#111" stroke="#111" stroke-width="0.12" textLength="5.9" lengthAdjust="spacingAndGlyphs">70</text>
<text x="187.67" y="498.93" font-size="6.5" font-weight="bold" fill="#111" stroke="#111" stroke-width="0.12" textLength="5.9" lengthAdjust="spacingAndGlyphs">80</text>
<text x="208.3" y="498.93" font-size="6.5" font-weight="bold" fill="#111" stroke="#111" stroke-width="0.12" textLength="5.9" lengthAdjust="spacingAndGlyphs">90</text>
<text x="227.45" y="498.93" font-size="6.5" font-weight="bold" fill="#111" stroke="#111" stroke-width="0.12" textLength="8.85" lengthAdjust="spacingAndGlyphs">100</text>
<text x="248.08" y="498.93" font-size="6.5" font-weight="bold" fill="#111" stroke="#111" stroke-width="0.12" textLength="8.85" lengthAdjust="spacingAndGlyphs">110</text>
<text x="117.6" y="508.6" font-size="6.19" font-weight="bold" fill="#000" stroke="#000" stroke-width="0.25" textLength="65.6" lengthAdjust="spacingAndGlyphs">Time after infusion (hours)</text>
<text transform="translate(8.27,431.3) rotate(-90)" font-size="4.9" font-weight="bold" fill="#111" stroke="#111" stroke-width="0.15" textLength="30" lengthAdjust="spacingAndGlyphs">VWF:Ag(IU/dL)</text>
<text x="180.75" y="359.45" font-size="6.8" font-weight="bold" fill="#000" stroke="#000" stroke-width="0.22" textLength="69.25" lengthAdjust="spacingAndGlyphs">rVWF-rFVIII VWF:Ag</text>
<line x1="209.5" y1="372.5" x2="220.5" y2="372.5" stroke="#b0283a" stroke-width="1.6"/>
<path d="M212.8 372.5L215 370.3L217.2 372.5L215 374.7Z" fill="#b0283a"/>
<text x="221.5" y="374.66" font-size="6.0" fill="#111" stroke="#111" stroke-width="0.18" textLength="29" lengthAdjust="spacingAndGlyphs">Subject #23</text>
<text x="1.4" y="356.6" font-size="12" font-weight="bold" fill="#000" stroke="#000" stroke-width="0.45">E</text>
<polyline points="26.12,357.87 26.63,364.11 27.66,367.23 31.79,373.48 37.98,392.21 44.16,395.33 50.35,410.94 75.11,439.04 83.36,445.29 91.61,445.6 124.61,463.4 174.12,473.39 223.62,476.2" fill="none" stroke="#7f9cc0" stroke-width="0.6"/>
<polyline points="26.12,376.6 26.63,398.46 31.79,402.2 37.98,402.2 44.16,408.45 50.35,423.75 75.11,442.17 83.36,445.6 91.61,448.72 124.61,465.9 174.12,477.14 223.62,479.95" fill="none" stroke="#7f9cc0" stroke-width="0.6"/>
<polyline points="26.12,426.56 26.63,428.12 27.66,429.68 31.79,432.8 37.98,435.61 44.16,438.73 50.35,450.91 75.11,457.15 83.36,454.66 91.61,416.88 124.61,467.77 174.12,479.63 223.62,482.44" fill="none" stroke="#7f9cc0" stroke-width="0.6"/>
<polyline points="26.12,429.68 26.63,432.8 27.66,435.92 31.79,442.17 37.98,444.98 44.16,448.1 50.35,454.66 75.11,460.9 83.36,464.02 91.61,470.27 124.61,479.95 174.12,485.57" fill="none" stroke="#7f9cc0" stroke-width="0.6"/>
<rect x="25.22" y="356.97" width="1.8" height="1.8" fill="#3d5678"/>
<rect x="25.73" y="363.21" width="1.8" height="1.8" fill="#3d5678"/>
<rect x="26.76" y="366.33" width="1.8" height="1.8" fill="#3d5678"/>
<rect x="30.89" y="372.58" width="1.8" height="1.8" fill="#3d5678"/>
<rect x="37.08" y="391.31" width="1.8" height="1.8" fill="#3d5678"/>
<rect x="43.26" y="394.43" width="1.8" height="1.8" fill="#3d5678"/>
<rect x="49.45" y="410.04" width="1.8" height="1.8" fill="#3d5678"/>
<rect x="74.21" y="438.14" width="1.8" height="1.8" fill="#3d5678"/>
<rect x="82.46" y="444.39" width="1.8" height="1.8" fill="#3d5678"/>
<rect x="90.71" y="444.7" width="1.8" height="1.8" fill="#3d5678"/>
<rect x="123.71" y="462.5" width="1.8" height="1.8" fill="#3d5678"/>
<rect x="173.22" y="472.49" width="1.8" height="1.8" fill="#3d5678"/>
<rect x="222.72" y="475.3" width="1.8" height="1.8" fill="#3d5678"/>
<rect x="25.22" y="375.7" width="1.8" height="1.8" fill="#3d5678"/>
<rect x="25.73" y="397.56" width="1.8" height="1.8" fill="#3d5678"/>
<rect x="30.89" y="401.3" width="1.8" height="1.8" fill="#3d5678"/>
<rect x="37.08" y="401.3" width="1.8" height="1.8" fill="#3d5678"/>
<rect x="43.26" y="407.55" width="1.8" height="1.8" fill="#3d5678"/>
<rect x="49.45" y="422.85" width="1.8" height="1.8" fill="#3d5678"/>
<rect x="74.21" y="441.27" width="1.8" height="1.8" fill="#3d5678"/>
<rect x="82.46" y="444.7" width="1.8" height="1.8" fill="#3d5678"/>
<rect x="90.71" y="447.82" width="1.8" height="1.8" fill="#3d5678"/>
<rect x="123.71" y="465" width="1.8" height="1.8" fill="#3d5678"/>
<rect x="173.22" y="476.24" width="1.8" height="1.8" fill="#3d5678"/>
<rect x="222.72" y="479.05" width="1.8" height="1.8" fill="#3d5678"/>
<rect x="25.22" y="425.66" width="1.8" height="1.8" fill="#3d5678"/>
<rect x="25.73" y="427.22" width="1.8" height="1.8" fill="#3d5678"/>
<rect x="26.76" y="428.78" width="1.8" height="1.8" fill="#3d5678"/>
<rect x="30.89" y="431.9" width="1.8" height="1.8" fill="#3d5678"/>
<rect x="37.08" y="434.71" width="1.8" height="1.8" fill="#3d5678"/>
<rect x="43.26" y="437.83" width="1.8" height="1.8" fill="#3d5678"/>
<rect x="49.45" y="450.01" width="1.8" height="1.8" fill="#3d5678"/>
<rect x="74.21" y="456.25" width="1.8" height="1.8" fill="#3d5678"/>
<rect x="82.46" y="453.76" width="1.8" height="1.8" fill="#3d5678"/>
<rect x="90.71" y="415.98" width="1.8" height="1.8" fill="#3d5678"/>
<rect x="123.71" y="466.87" width="1.8" height="1.8" fill="#3d5678"/>
<rect x="173.22" y="478.73" width="1.8" height="1.8" fill="#3d5678"/>
<rect x="222.72" y="481.54" width="1.8" height="1.8" fill="#3d5678"/>
<rect x="25.22" y="428.78" width="1.8" height="1.8" fill="#3d5678"/>
<rect x="25.73" y="431.9" width="1.8" height="1.8" fill="#3d5678"/>
<rect x="26.76" y="435.02" width="1.8" height="1.8" fill="#3d5678"/>
<rect x="30.89" y="441.27" width="1.8" height="1.8" fill="#3d5678"/>
<rect x="37.08" y="444.08" width="1.8" height="1.8" fill="#3d5678"/>
<rect x="43.26" y="447.2" width="1.8" height="1.8" fill="#3d5678"/>
<rect x="49.45" y="453.76" width="1.8" height="1.8" fill="#3d5678"/>
<rect x="74.21" y="460" width="1.8" height="1.8" fill="#3d5678"/>
<rect x="82.46" y="463.12" width="1.8" height="1.8" fill="#3d5678"/>
<rect x="90.71" y="469.37" width="1.8" height="1.8" fill="#3d5678"/>
<rect x="123.71" y="479.05" width="1.8" height="1.8" fill="#3d5678"/>
<rect x="173.22" y="484.67" width="1.8" height="1.8" fill="#3d5678"/>
<polyline points="26.22,414.38 26.43,420.62 28.08,429.68 32.41,457.47 38.8,473.08 44.37,479.32 50.77,482.44 75.11,489 83.36,489 91.61,489 124.61,489 174.12,489 223.62,489" fill="none" stroke="#a52a3a" stroke-width="1.4" stroke-linejoin="round"/>
<path d="M23.77 414.38L26.22 411.93L28.67 414.38L26.22 416.83Z" fill="#e25a6b" stroke="#a81c2d" stroke-width="1.0"/>
<path d="M23.98 420.62L26.43 418.17L28.88 420.62L26.43 423.07Z" fill="#e25a6b" stroke="#a81c2d" stroke-width="1.0"/>
<path d="M25.63 429.68L28.08 427.23L30.53 429.68L28.08 432.13Z" fill="#e25a6b" stroke="#a81c2d" stroke-width="1.0"/>
<path d="M29.96 457.47L32.41 455.02L34.86 457.47L32.41 459.92Z" fill="#e25a6b" stroke="#a81c2d" stroke-width="1.0"/>
<path d="M36.35 473.08L38.8 470.63L41.25 473.08L38.8 475.53Z" fill="#e25a6b" stroke="#a81c2d" stroke-width="1.0"/>
<path d="M41.92 479.32L44.37 476.87L46.82 479.32L44.37 481.77Z" fill="#e25a6b" stroke="#a81c2d" stroke-width="1.0"/>
<path d="M48.32 482.44L50.77 479.99L53.22 482.44L50.77 484.89Z" fill="#e25a6b" stroke="#a81c2d" stroke-width="1.0"/>
<path d="M72.66 489L75.11 486.55L77.56 489L75.11 491.45Z" fill="#e25a6b" stroke="#a81c2d" stroke-width="1.0"/>
<path d="M80.91 489L83.36 486.55L85.81 489L83.36 491.45Z" fill="#e25a6b" stroke="#a81c2d" stroke-width="1.0"/>
<path d="M89.16 489L91.61 486.55L94.06 489L91.61 491.45Z" fill="#e25a6b" stroke="#a81c2d" stroke-width="1.0"/>
<path d="M122.16 489L124.61 486.55L127.06 489L124.61 491.45Z" fill="#e25a6b" stroke="#a81c2d" stroke-width="1.0"/>
<path d="M171.67 489L174.12 486.55L176.57 489L174.12 491.45Z" fill="#e25a6b" stroke="#a81c2d" stroke-width="1.0"/>
<path d="M221.17 489L223.62 486.55L226.07 489L223.62 491.45Z" fill="#e25a6b" stroke="#a81c2d" stroke-width="1.0"/>
<line x1="288" y1="487.6" x2="514.5" y2="487.6" stroke="#cdcdcd" stroke-width="0.8"/>
<line x1="288" y1="470.21" x2="514.5" y2="470.21" stroke="#cdcdcd" stroke-width="0.8"/>
<line x1="288" y1="452.83" x2="514.5" y2="452.83" stroke="#cdcdcd" stroke-width="0.8"/>
<line x1="288" y1="435.44" x2="514.5" y2="435.44" stroke="#cdcdcd" stroke-width="0.8"/>
<line x1="288" y1="418.05" x2="514.5" y2="418.05" stroke="#cdcdcd" stroke-width="0.8"/>
<line x1="288" y1="400.66" x2="514.5" y2="400.66" stroke="#cdcdcd" stroke-width="0.8"/>
<line x1="288" y1="383.27" x2="514.5" y2="383.27" stroke="#cdcdcd" stroke-width="0.8"/>
<line x1="288" y1="365.89" x2="514.5" y2="365.89" stroke="#cdcdcd" stroke-width="0.8"/>
<line x1="288" y1="348.5" x2="514.5" y2="348.5" stroke="#cdcdcd" stroke-width="0.8"/>
<rect x="288" y="348.5" width="226.5" height="139.1" fill="none" stroke="#cdcdcd" stroke-width="0.8"/>
<line x1="288" y1="348.5" x2="288" y2="487.6" stroke="#c6c6c6" stroke-width="0.8"/>
<text x="280.1" y="489.35" font-size="6.0" font-weight="bold" fill="#111" stroke="#111" stroke-width="0.12" textLength="3" lengthAdjust="spacingAndGlyphs">0</text>
<text x="280.1" y="471.96" font-size="6.0" font-weight="bold" fill="#111" stroke="#111" stroke-width="0.12" textLength="3" lengthAdjust="spacingAndGlyphs">5</text>
<text x="277.1" y="454.57" font-size="6.0" font-weight="bold" fill="#111" stroke="#111" stroke-width="0.12" textLength="6" lengthAdjust="spacingAndGlyphs">10</text>
<text x="277.1" y="437.19" font-size="6.0" font-weight="bold" fill="#111" stroke="#111" stroke-width="0.12" textLength="6" lengthAdjust="spacingAndGlyphs">15</text>
<text x="277.1" y="419.8" font-size="6.0" font-weight="bold" fill="#111" stroke="#111" stroke-width="0.12" textLength="6" lengthAdjust="spacingAndGlyphs">20</text>
<text x="277.1" y="402.41" font-size="6.0" font-weight="bold" fill="#111" stroke="#111" stroke-width="0.12" textLength="6" lengthAdjust="spacingAndGlyphs">25</text>
<text x="277.1" y="385.02" font-size="6.0" font-weight="bold" fill="#111" stroke="#111" stroke-width="0.12" textLength="6" lengthAdjust="spacingAndGlyphs">30</text>
<text x="277.1" y="367.64" font-size="6.0" font-weight="bold" fill="#111" stroke="#111" stroke-width="0.12" textLength="6" lengthAdjust="spacingAndGlyphs">35</text>
<text x="277.1" y="350.25" font-size="6.0" font-weight="bold" fill="#111" stroke="#111" stroke-width="0.12" textLength="6" lengthAdjust="spacingAndGlyphs">40</text>
<text x="286.5" y="497.85" font-size="6.0" font-weight="bold" fill="#111" stroke="#111" stroke-width="0.12" textLength="3" lengthAdjust="spacingAndGlyphs">0</text>
<text x="305.59" y="497.85" font-size="6.0" font-weight="bold" fill="#111" stroke="#111" stroke-width="0.12" textLength="6" lengthAdjust="spacingAndGlyphs">10</text>
<text x="326.18" y="497.85" font-size="6.0" font-weight="bold" fill="#111" stroke="#111" stroke-width="0.12" textLength="6" lengthAdjust="spacingAndGlyphs">20</text>
<text x="346.77" y="497.85" font-size="6.0" font-weight="bold" fill="#111" stroke="#111" stroke-width="0.12" textLength="6" lengthAdjust="spacingAndGlyphs">30</text>
<text x="367.36" y="497.85" font-size="6.0" font-weight="bold" fill="#111" stroke="#111" stroke-width="0.12" textLength="6" lengthAdjust="spacingAndGlyphs">40</text>
<text x="387.95" y="497.85" font-size="6.0" font-weight="bold" fill="#111" stroke="#111" stroke-width="0.12" textLength="6" lengthAdjust="spacingAndGlyphs">50</text>
<text x="408.55" y="497.85" font-size="6.0" font-weight="bold" fill="#111" stroke="#111" stroke-width="0.12" textLength="6" lengthAdjust="spacingAndGlyphs">60</text>
<text x="429.14" y="497.85" font-size="6.0" font-weight="bold" fill="#111" stroke="#111" stroke-width="0.12" textLength="6" lengthAdjust="spacingAndGlyphs">70</text>
<text x="449.73" y="497.85" font-size="6.0" font-weight="bold" fill="#111" stroke="#111" stroke-width="0.12" textLength="6" lengthAdjust="spacingAndGlyphs">80</text>
<text x="470.32" y="497.85" font-size="6.0" font-weight="bold" fill="#111" stroke="#111" stroke-width="0.12" textLength="6" lengthAdjust="spacingAndGlyphs">90</text>
<text x="489.41" y="497.85" font-size="6.0" font-weight="bold" fill="#111" stroke="#111" stroke-width="0.12" textLength="9" lengthAdjust="spacingAndGlyphs">100</text>
<text x="510" y="497.85" font-size="6.0" font-weight="bold" fill="#111" stroke="#111" stroke-width="0.12" textLength="9" lengthAdjust="spacingAndGlyphs">110</text>
<text x="379.7" y="506.7" font-size="6.17" font-weight="bold" fill="#000" stroke="#000" stroke-width="0.25" textLength="65.4" lengthAdjust="spacingAndGlyphs">Time after infusion (hours)</text>
<text transform="translate(270.8,438.3) rotate(-90)" font-size="5.2" font-weight="bold" fill="#111" stroke="#111" stroke-width="0.15" textLength="33.6" lengthAdjust="spacingAndGlyphs">VWF:RCo (IU/dL)</text>
<text x="440" y="360.09" font-size="7.2" font-weight="bold" fill="#000" stroke="#000" stroke-width="0.22" textLength="72.5" lengthAdjust="spacingAndGlyphs">rVWF-rFVIII VWF:RCo</text>
<line x1="470.5" y1="370.8" x2="482" y2="370.8" stroke="#b0283a" stroke-width="1.6"/>
<path d="M474.05 370.8L476.25 368.6L478.45 370.8L476.25 373Z" fill="#b0283a"/>
<text x="483.25" y="372.96" font-size="6.0" fill="#111" stroke="#111" stroke-width="0.18" textLength="28.5" lengthAdjust="spacingAndGlyphs">Subject #23</text>
<text x="263" y="356.2" font-size="12" font-weight="bold" fill="#000" stroke="#000" stroke-width="0.45">F</text>
<polyline points="288.51,358.93 289.03,362.41 290.06,379.8 294.18,386.75 300.35,411.1 306.53,414.57 312.71,425.7 337.42,445.87 345.65,456.3 353.89,460.13 386.84,470.56 436.25,480.65 485.67,483.77" fill="none" stroke="#7f9cc0" stroke-width="0.6"/>
<polyline points="288.51,369.37 289.03,370.06 290.06,383.27 294.18,405.18 300.35,412.14 306.53,421.88 312.71,435.09 337.42,452.48 345.65,483.77 353.89,467.08 386.84,477.17 485.67,483.77" fill="none" stroke="#7f9cc0" stroke-width="0.6"/>
<polyline points="288.51,400.66 289.03,407.62 290.06,407.97 294.18,411.79 300.35,418.05 306.53,428.83 312.71,438.92 337.42,452.83 345.65,469.86 353.89,483.77 386.84,480.65 485.67,483.43" fill="none" stroke="#7f9cc0" stroke-width="0.6"/>
<polyline points="288.51,407.62 289.03,411.1 290.06,418.05 294.18,421.53 300.35,431.96 306.53,439.26 312.71,446.22 337.42,462.91 345.65,469.86 353.89,467.08 386.84,480.65 436.25,480.65 485.67,484.12" fill="none" stroke="#7f9cc0" stroke-width="0.6"/>
<rect x="287.61" y="358.03" width="1.8" height="1.8" fill="#3d5678"/>
<rect x="288.13" y="361.51" width="1.8" height="1.8" fill="#3d5678"/>
<rect x="289.16" y="378.9" width="1.8" height="1.8" fill="#3d5678"/>
<rect x="293.28" y="385.85" width="1.8" height="1.8" fill="#3d5678"/>
<rect x="299.45" y="410.2" width="1.8" height="1.8" fill="#3d5678"/>
<rect x="305.63" y="413.67" width="1.8" height="1.8" fill="#3d5678"/>
<rect x="311.81" y="424.8" width="1.8" height="1.8" fill="#3d5678"/>
<rect x="336.52" y="444.97" width="1.8" height="1.8" fill="#3d5678"/>
<rect x="344.75" y="455.4" width="1.8" height="1.8" fill="#3d5678"/>
<rect x="352.99" y="459.23" width="1.8" height="1.8" fill="#3d5678"/>
<rect x="385.94" y="469.66" width="1.8" height="1.8" fill="#3d5678"/>
<rect x="435.35" y="479.75" width="1.8" height="1.8" fill="#3d5678"/>
<rect x="484.77" y="482.87" width="1.8" height="1.8" fill="#3d5678"/>
<rect x="287.61" y="368.47" width="1.8" height="1.8" fill="#3d5678"/>
<rect x="288.13" y="369.16" width="1.8" height="1.8" fill="#3d5678"/>
<rect x="289.16" y="382.38" width="1.8" height="1.8" fill="#3d5678"/>
<rect x="293.28" y="404.28" width="1.8" height="1.8" fill="#3d5678"/>
<rect x="299.45" y="411.24" width="1.8" height="1.8" fill="#3d5678"/>
<rect x="305.63" y="420.98" width="1.8" height="1.8" fill="#3d5678"/>
<rect x="311.81" y="434.19" width="1.8" height="1.8" fill="#3d5678"/>
<rect x="336.52" y="451.58" width="1.8" height="1.8" fill="#3d5678"/>
<rect x="344.75" y="482.87" width="1.8" height="1.8" fill="#3d5678"/>
<rect x="352.99" y="466.18" width="1.8" height="1.8" fill="#3d5678"/>
<rect x="385.94" y="476.27" width="1.8" height="1.8" fill="#3d5678"/>
<rect x="484.77" y="482.87" width="1.8" height="1.8" fill="#3d5678"/>
<rect x="287.61" y="399.76" width="1.8" height="1.8" fill="#3d5678"/>
<rect x="288.13" y="406.72" width="1.8" height="1.8" fill="#3d5678"/>
<rect x="289.16" y="407.07" width="1.8" height="1.8" fill="#3d5678"/>
<rect x="293.28" y="410.89" width="1.8" height="1.8" fill="#3d5678"/>
<rect x="299.45" y="417.15" width="1.8" height="1.8" fill="#3d5678"/>
<rect x="305.63" y="427.93" width="1.8" height="1.8" fill="#3d5678"/>
<rect x="311.81" y="438.02" width="1.8" height="1.8" fill="#3d5678"/>
<rect x="336.52" y="451.93" width="1.8" height="1.8" fill="#3d5678"/>
<rect x="344.75" y="468.96" width="1.8" height="1.8" fill="#3d5678"/>
<rect x="352.99" y="482.87" width="1.8" height="1.8" fill="#3d5678"/>
<rect x="385.94" y="479.75" width="1.8" height="1.8" fill="#3d5678"/>
<rect x="484.77" y="482.53" width="1.8" height="1.8" fill="#3d5678"/>
<rect x="287.61" y="406.72" width="1.8" height="1.8" fill="#3d5678"/>
<rect x="288.13" y="410.2" width="1.8" height="1.8" fill="#3d5678"/>
<rect x="289.16" y="417.15" width="1.8" height="1.8" fill="#3d5678"/>
<rect x="293.28" y="420.63" width="1.8" height="1.8" fill="#3d5678"/>
<rect x="299.45" y="431.06" width="1.8" height="1.8" fill="#3d5678"/>
<rect x="305.63" y="438.36" width="1.8" height="1.8" fill="#3d5678"/>
<rect x="311.81" y="445.32" width="1.8" height="1.8" fill="#3d5678"/>
<rect x="336.52" y="462.01" width="1.8" height="1.8" fill="#3d5678"/>
<rect x="344.75" y="468.96" width="1.8" height="1.8" fill="#3d5678"/>
<rect x="352.99" y="466.18" width="1.8" height="1.8" fill="#3d5678"/>
<rect x="385.94" y="479.75" width="1.8" height="1.8" fill="#3d5678"/>
<rect x="435.35" y="479.75" width="1.8" height="1.8" fill="#3d5678"/>
<rect x="484.77" y="483.22" width="1.8" height="1.8" fill="#3d5678"/>
<polyline points="288.41,400.31 288.82,411.44 290.06,428.83 294.59,456.3 300.56,483.77 306.94,487.6 313.12,487.6 338.04,487.6 346.07,487.6 354.3,487.6 387.25,487.6 436.25,487.6 485.67,487.6" fill="none" stroke="#a52a3a" stroke-width="1.4" stroke-linejoin="round"/>
<path d="M285.96 400.31L288.41 397.86L290.86 400.31L288.41 402.76Z" fill="#e25a6b" stroke="#a81c2d" stroke-width="1.0"/>
<path d="M286.37 411.44L288.82 408.99L291.27 411.44L288.82 413.89Z" fill="#e25a6b" stroke="#a81c2d" stroke-width="1.0"/>
<path d="M287.61 428.83L290.06 426.38L292.51 428.83L290.06 431.28Z" fill="#e25a6b" stroke="#a81c2d" stroke-width="1.0"/>
<path d="M292.14 456.3L294.59 453.85L297.04 456.3L294.59 458.75Z" fill="#e25a6b" stroke="#a81c2d" stroke-width="1.0"/>
<path d="M298.11 483.77L300.56 481.32L303.01 483.77L300.56 486.22Z" fill="#e25a6b" stroke="#a81c2d" stroke-width="1.0"/>
<path d="M304.49 487.6L306.94 485.15L309.39 487.6L306.94 490.05Z" fill="#e25a6b" stroke="#a81c2d" stroke-width="1.0"/>
<path d="M310.67 487.6L313.12 485.15L315.57 487.6L313.12 490.05Z" fill="#e25a6b" stroke="#a81c2d" stroke-width="1.0"/>
<path d="M335.59 487.6L338.04 485.15L340.49 487.6L338.04 490.05Z" fill="#e25a6b" stroke="#a81c2d" stroke-width="1.0"/>
<path d="M343.62 487.6L346.07 485.15L348.52 487.6L346.07 490.05Z" fill="#e25a6b" stroke="#a81c2d" stroke-width="1.0"/>
<path d="M351.85 487.6L354.3 485.15L356.75 487.6L354.3 490.05Z" fill="#e25a6b" stroke="#a81c2d" stroke-width="1.0"/>
<path d="M384.8 487.6L387.25 485.15L389.7 487.6L387.25 490.05Z" fill="#e25a6b" stroke="#a81c2d" stroke-width="1.0"/>
<path d="M433.8 487.6L436.25 485.15L438.7 487.6L436.25 490.05Z" fill="#e25a6b" stroke="#a81c2d" stroke-width="1.0"/>
<path d="M483.22 487.6L485.67 485.15L488.12 487.6L485.67 490.05Z" fill="#e25a6b" stroke="#a81c2d" stroke-width="1.0"/>
<line x1="136.3" y1="670.5" x2="364.6" y2="670.5" stroke="#cdcdcd" stroke-width="0.8"/>
<line x1="136.3" y1="654.99" x2="364.6" y2="654.99" stroke="#cdcdcd" stroke-width="0.8"/>
<line x1="136.3" y1="639.48" x2="364.6" y2="639.48" stroke="#cdcdcd" stroke-width="0.8"/>
<line x1="136.3" y1="623.97" x2="364.6" y2="623.97" stroke="#cdcdcd" stroke-width="0.8"/>
<line x1="136.3" y1="608.46" x2="364.6" y2="608.46" stroke="#cdcdcd" stroke-width="0.8"/>
<line x1="136.3" y1="592.94" x2="364.6" y2="592.94" stroke="#cdcdcd" stroke-width="0.8"/>
<line x1="136.3" y1="577.43" x2="364.6" y2="577.43" stroke="#cdcdcd" stroke-width="0.8"/>
<line x1="136.3" y1="561.92" x2="364.6" y2="561.92" stroke="#cdcdcd" stroke-width="0.8"/>
<line x1="136.3" y1="546.41" x2="364.6" y2="546.41" stroke="#cdcdcd" stroke-width="0.8"/>
<line x1="136.3" y1="530.9" x2="364.6" y2="530.9" stroke="#cdcdcd" stroke-width="0.8"/>
<rect x="136.3" y="530.9" width="228.3" height="139.6" fill="none" stroke="#cdcdcd" stroke-width="0.8"/>
<line x1="136.3" y1="530.9" x2="136.3" y2="670.5" stroke="#c6c6c6" stroke-width="0.8"/>
<text x="127.5" y="672.39" font-size="6.4" font-weight="bold" fill="#111" stroke="#111" stroke-width="0.12" textLength="3.1" lengthAdjust="spacingAndGlyphs">0</text>
<text x="124.4" y="656.88" font-size="6.4" font-weight="bold" fill="#111" stroke="#111" stroke-width="0.12" textLength="6.2" lengthAdjust="spacingAndGlyphs">10</text>
<text x="124.4" y="641.37" font-size="6.4" font-weight="bold" fill="#111" stroke="#111" stroke-width="0.12" textLength="6.2" lengthAdjust="spacingAndGlyphs">20</text>
<text x="124.4" y="625.86" font-size="6.4" font-weight="bold" fill="#111" stroke="#111" stroke-width="0.12" textLength="6.2" lengthAdjust="spacingAndGlyphs">30</text>
<text x="124.4" y="610.35" font-size="6.4" font-weight="bold" fill="#111" stroke="#111" stroke-width="0.12" textLength="6.2" lengthAdjust="spacingAndGlyphs">40</text>
<text x="124.4" y="594.84" font-size="6.4" font-weight="bold" fill="#111" stroke="#111" stroke-width="0.12" textLength="6.2" lengthAdjust="spacingAndGlyphs">50</text>
<text x="124.4" y="579.32" font-size="6.4" font-weight="bold" fill="#111" stroke="#111" stroke-width="0.12" textLength="6.2" lengthAdjust="spacingAndGlyphs">60</text>
<text x="124.4" y="563.81" font-size="6.4" font-weight="bold" fill="#111" stroke="#111" stroke-width="0.12" textLength="6.2" lengthAdjust="spacingAndGlyphs">70</text>
<text x="124.4" y="548.3" font-size="6.4" font-weight="bold" fill="#111" stroke="#111" stroke-width="0.12" textLength="6.2" lengthAdjust="spacingAndGlyphs">80</text>
<text x="124.4" y="532.79" font-size="6.4" font-weight="bold" fill="#111" stroke="#111" stroke-width="0.12" textLength="6.2" lengthAdjust="spacingAndGlyphs">90</text>
<text x="134.75" y="680.99" font-size="6.4" font-weight="bold" fill="#111" stroke="#111" stroke-width="0.12" textLength="3.1" lengthAdjust="spacingAndGlyphs">0</text>
<text x="153.95" y="680.99" font-size="6.4" font-weight="bold" fill="#111" stroke="#111" stroke-width="0.12" textLength="6.2" lengthAdjust="spacingAndGlyphs">10</text>
<text x="174.71" y="680.99" font-size="6.4" font-weight="bold" fill="#111" stroke="#111" stroke-width="0.12" textLength="6.2" lengthAdjust="spacingAndGlyphs">20</text>
<text x="195.46" y="680.99" font-size="6.4" font-weight="bold" fill="#111" stroke="#111" stroke-width="0.12" textLength="6.2" lengthAdjust="spacingAndGlyphs">30</text>
<text x="216.22" y="680.99" font-size="6.4" font-weight="bold" fill="#111" stroke="#111" stroke-width="0.12" textLength="6.2" lengthAdjust="spacingAndGlyphs">40</text>
<text x="236.97" y="680.99" font-size="6.4" font-weight="bold" fill="#111" stroke="#111" stroke-width="0.12" textLength="6.2" lengthAdjust="spacingAndGlyphs">50</text>
<text x="257.73" y="680.99" font-size="6.4" font-weight="bold" fill="#111" stroke="#111" stroke-width="0.12" textLength="6.2" lengthAdjust="spacingAndGlyphs">60</text>
<text x="278.48" y="680.99" font-size="6.4" font-weight="bold" fill="#111" stroke="#111" stroke-width="0.12" textLength="6.2" lengthAdjust="spacingAndGlyphs">70</text>
<text x="299.24" y="680.99" font-size="6.4" font-weight="bold" fill="#111" stroke="#111" stroke-width="0.12" textLength="6.2" lengthAdjust="spacingAndGlyphs">80</text>
<text x="319.99" y="680.99" font-size="6.4" font-weight="bold" fill="#111" stroke="#111" stroke-width="0.12" textLength="6.2" lengthAdjust="spacingAndGlyphs">90</text>
<text x="339.2" y="680.99" font-size="6.4" font-weight="bold" fill="#111" stroke="#111" stroke-width="0.12" textLength="9.3" lengthAdjust="spacingAndGlyphs">100</text>
<text x="359.95" y="680.99" font-size="6.4" font-weight="bold" fill="#111" stroke="#111" stroke-width="0.12" textLength="9.3" lengthAdjust="spacingAndGlyphs">110</text>
<text x="218.2" y="690.12" font-size="6.23" font-weight="bold" fill="#000" stroke="#000" stroke-width="0.25" textLength="66" lengthAdjust="spacingAndGlyphs">Time after infusion (hours)</text>
<text transform="translate(119.36,618.05) rotate(-90)" font-size="5.4" font-weight="bold" fill="#111" stroke="#111" stroke-width="0.15" textLength="34.7" lengthAdjust="spacingAndGlyphs">FVIII:C (IU/dL)</text>
<text x="298.3" y="540.18" font-size="6.9" font-weight="bold" fill="#000" stroke="#000" stroke-width="0.22" textLength="64" lengthAdjust="spacingAndGlyphs">rVWF-rFVIII FVIII:C</text>
<line x1="321.7" y1="553" x2="333" y2="553" stroke="#b0283a" stroke-width="1.6"/>
<path d="M325.15 553L327.35 550.8L329.55 553L327.35 555.2Z" fill="#b0283a"/>
<text x="334.6" y="555.16" font-size="6.0" fill="#111" stroke="#111" stroke-width="0.18" textLength="28.4" lengthAdjust="spacingAndGlyphs">Subject #23</text>
<text x="106.4" y="536.9" font-size="12" font-weight="bold" fill="#000" stroke="#000" stroke-width="0.45">G</text>
<polyline points="136.82,576.19 137.34,580.54 142.53,570.92 148.75,562.23 154.98,551.06 161.21,556.03 186.11,570.92 194.41,577.74 202.71,582.55 235.92,621.17 285.73,644.13 335.54,653.75" fill="none" stroke="#7f9cc0" stroke-width="0.6"/>
<polyline points="136.82,599.15 142.53,600.7 148.75,594.96 154.98,580.85 161.21,580.85 186.11,570.92 194.41,570.3 202.71,576.5 235.92,601.01 285.73,636.07 335.54,651.58" fill="none" stroke="#7f9cc0" stroke-width="0.6"/>
<polyline points="136.82,603.8 142.53,597.6 148.75,594.96 154.98,591.39 161.21,594.81 186.11,582.55 194.41,594.81 202.71,621.17 235.92,633.43 285.73,656.85 335.54,661.66" fill="none" stroke="#7f9cc0" stroke-width="0.6"/>
<polyline points="136.82,599.77 142.53,614.66 148.75,601.01 154.98,601.01 161.21,605.35 186.11,601.01 194.41,600.7 202.71,611.56 235.92,608.46 285.73,641.18 335.54,653.75" fill="none" stroke="#7f9cc0" stroke-width="0.6"/>
<rect x="135.92" y="575.29" width="1.8" height="1.8" fill="#3d5678"/>
<rect x="136.44" y="579.64" width="1.8" height="1.8" fill="#3d5678"/>
<rect x="141.63" y="570.02" width="1.8" height="1.8" fill="#3d5678"/>
<rect x="147.85" y="561.33" width="1.8" height="1.8" fill="#3d5678"/>
<rect x="154.08" y="550.16" width="1.8" height="1.8" fill="#3d5678"/>
<rect x="160.31" y="555.13" width="1.8" height="1.8" fill="#3d5678"/>
<rect x="185.21" y="570.02" width="1.8" height="1.8" fill="#3d5678"/>
<rect x="193.51" y="576.84" width="1.8" height="1.8" fill="#3d5678"/>
<rect x="201.81" y="581.65" width="1.8" height="1.8" fill="#3d5678"/>
<rect x="235.02" y="620.27" width="1.8" height="1.8" fill="#3d5678"/>
<rect x="284.83" y="643.23" width="1.8" height="1.8" fill="#3d5678"/>
<rect x="334.64" y="652.85" width="1.8" height="1.8" fill="#3d5678"/>
<rect x="135.92" y="598.25" width="1.8" height="1.8" fill="#3d5678"/>
<rect x="141.63" y="599.8" width="1.8" height="1.8" fill="#3d5678"/>
<rect x="147.85" y="594.06" width="1.8" height="1.8" fill="#3d5678"/>
<rect x="154.08" y="579.95" width="1.8" height="1.8" fill="#3d5678"/>
<rect x="160.31" y="579.95" width="1.8" height="1.8" fill="#3d5678"/>
<rect x="185.21" y="570.02" width="1.8" height="1.8" fill="#3d5678"/>
<rect x="193.51" y="569.4" width="1.8" height="1.8" fill="#3d5678"/>
<rect x="201.81" y="575.6" width="1.8" height="1.8" fill="#3d5678"/>
<rect x="235.02" y="600.11" width="1.8" height="1.8" fill="#3d5678"/>
<rect x="284.83" y="635.17" width="1.8" height="1.8" fill="#3d5678"/>
<rect x="334.64" y="650.68" width="1.8" height="1.8" fill="#3d5678"/>
<rect x="135.92" y="602.9" width="1.8" height="1.8" fill="#3d5678"/>
<rect x="141.63" y="596.7" width="1.8" height="1.8" fill="#3d5678"/>
<rect x="147.85" y="594.06" width="1.8" height="1.8" fill="#3d5678"/>
<rect x="154.08" y="590.49" width="1.8" height="1.8" fill="#3d5678"/>
<rect x="160.31" y="593.91" width="1.8" height="1.8" fill="#3d5678"/>
<rect x="185.21" y="581.65" width="1.8" height="1.8" fill="#3d5678"/>
<rect x="193.51" y="593.91" width="1.8" height="1.8" fill="#3d5678"/>
<rect x="201.81" y="620.27" width="1.8" height="1.8" fill="#3d5678"/>
<rect x="235.02" y="632.53" width="1.8" height="1.8" fill="#3d5678"/>
<rect x="284.83" y="655.95" width="1.8" height="1.8" fill="#3d5678"/>
<rect x="334.64" y="660.76" width="1.8" height="1.8" fill="#3d5678"/>
<rect x="135.92" y="598.87" width="1.8" height="1.8" fill="#3d5678"/>
<rect x="141.63" y="613.76" width="1.8" height="1.8" fill="#3d5678"/>
<rect x="147.85" y="600.11" width="1.8" height="1.8" fill="#3d5678"/>
<rect x="154.08" y="600.11" width="1.8" height="1.8" fill="#3d5678"/>
<rect x="160.31" y="604.45" width="1.8" height="1.8" fill="#3d5678"/>
<rect x="185.21" y="600.11" width="1.8" height="1.8" fill="#3d5678"/>
<rect x="193.51" y="599.8" width="1.8" height="1.8" fill="#3d5678"/>
<rect x="201.81" y="610.66" width="1.8" height="1.8" fill="#3d5678"/>
<rect x="235.02" y="607.56" width="1.8" height="1.8" fill="#3d5678"/>
<rect x="284.83" y="640.28" width="1.8" height="1.8" fill="#3d5678"/>
<rect x="334.64" y="652.85" width="1.8" height="1.8" fill="#3d5678"/>
<polyline points="136.72,608.46 137.34,614.66 138.38,619.31 142.53,630.17 148.75,627.07 154.98,637.93 161.21,648.78 186.11,659.64 194.41,664.3 202.71,664.3 235.92,667.4 285.73,667.4 335.54,667.4" fill="none" stroke="#a52a3a" stroke-width="1.4" stroke-linejoin="round"/>
<path d="M134.27 608.46L136.72 606.01L139.17 608.46L136.72 610.91Z" fill="#e25a6b" stroke="#a81c2d" stroke-width="1.0"/>
<path d="M134.89 614.66L137.34 612.21L139.79 614.66L137.34 617.11Z" fill="#e25a6b" stroke="#a81c2d" stroke-width="1.0"/>
<path d="M135.93 619.31L138.38 616.86L140.83 619.31L138.38 621.76Z" fill="#e25a6b" stroke="#a81c2d" stroke-width="1.0"/>
<path d="M140.08 630.17L142.53 627.72L144.98 630.17L142.53 632.62Z" fill="#e25a6b" stroke="#a81c2d" stroke-width="1.0"/>
<path d="M146.3 627.07L148.75 624.62L151.2 627.07L148.75 629.52Z" fill="#e25a6b" stroke="#a81c2d" stroke-width="1.0"/>
<path d="M152.53 637.93L154.98 635.48L157.43 637.93L154.98 640.38Z" fill="#e25a6b" stroke="#a81c2d" stroke-width="1.0"/>
<path d="M158.76 648.78L161.21 646.33L163.66 648.78L161.21 651.23Z" fill="#e25a6b" stroke="#a81c2d" stroke-width="1.0"/>
<path d="M183.66 659.64L186.11 657.19L188.56 659.64L186.11 662.09Z" fill="#e25a6b" stroke="#a81c2d" stroke-width="1.0"/>
<path d="M191.96 664.3L194.41 661.85L196.86 664.3L194.41 666.75Z" fill="#e25a6b" stroke="#a81c2d" stroke-width="1.0"/>
<path d="M200.26 664.3L202.71 661.85L205.16 664.3L202.71 666.75Z" fill="#e25a6b" stroke="#a81c2d" stroke-width="1.0"/>
<path d="M233.47 667.4L235.92 664.95L238.37 667.4L235.92 669.85Z" fill="#e25a6b" stroke="#a81c2d" stroke-width="1.0"/>
<path d="M283.28 667.4L285.73 664.95L288.18 667.4L285.73 669.85Z" fill="#e25a6b" stroke="#a81c2d" stroke-width="1.0"/>
<path d="M333.09 667.4L335.54 664.95L337.99 667.4L335.54 669.85Z" fill="#e25a6b" stroke="#a81c2d" stroke-width="1.0"/>
</svg>
</body></html>
